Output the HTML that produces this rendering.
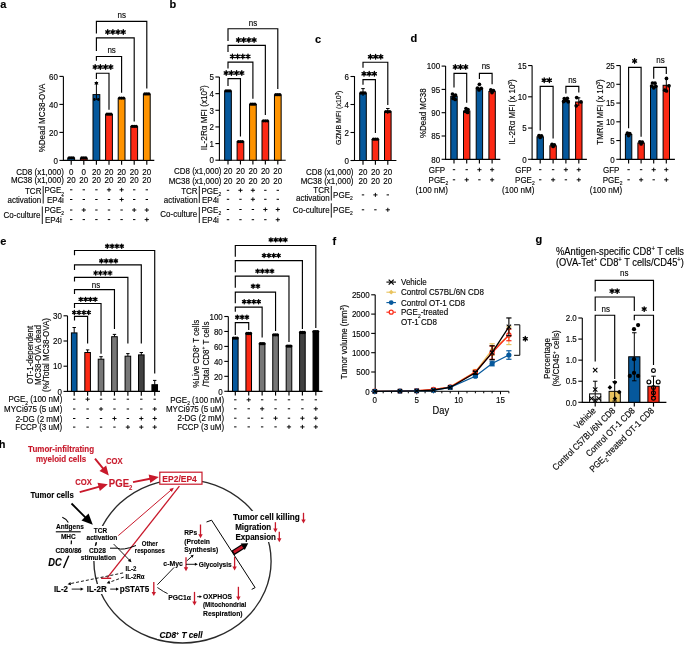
<!DOCTYPE html>
<html><head><meta charset="utf-8"><style>
html,body{margin:0;padding:0;background:#fff;width:685px;height:645px;overflow:hidden}
svg{display:block}
.tx text{stroke-width:0.22px;stroke-opacity:0.55}
</style></head><body>
<svg width="685" height="645" viewBox="0 0 685 645" style="will-change:transform">
<rect width="685" height="645" fill="#fff"/>
<g font-family="'Liberation Sans', sans-serif" font-size="8" class="tx">
<text x="0.3" y="7.9" font-size="11" font-weight="bold" stroke="#000">a</text>
<text x="169.4" y="7.9" font-size="11" font-weight="bold" stroke="#000">b</text>
<text x="314.9" y="42.8" font-size="11" font-weight="bold" stroke="#000">c</text>
<text x="410.5" y="42" font-size="11" font-weight="bold" stroke="#000">d</text>
<text x="0.3" y="245.1" font-size="11" font-weight="bold" stroke="#000">e</text>
<text x="332.4" y="244.9" font-size="11" font-weight="bold" stroke="#000">f</text>
<text x="535.6" y="243.2" font-size="11" font-weight="bold" stroke="#000">g</text>
<text x="-1.3" y="447.8" font-size="11" font-weight="bold" stroke="#000">h</text>
<line x1="63.4" y1="76.4" x2="63.4" y2="160.9" stroke="#000" stroke-width="1.1" />
<line x1="59.4" y1="160.4" x2="63.4" y2="160.4" stroke="#000" stroke-width="1.1" />
<text transform="translate(57.9,163.63) scale(1,1.12)" text-anchor="end" stroke="#000">0</text>
<line x1="59.4" y1="132.4" x2="63.4" y2="132.4" stroke="#000" stroke-width="1.1" />
<text transform="translate(57.9,135.63) scale(1,1.12)" text-anchor="end" stroke="#000">20</text>
<line x1="59.4" y1="104.4" x2="63.4" y2="104.4" stroke="#000" stroke-width="1.1" />
<text transform="translate(57.9,107.63) scale(1,1.12)" text-anchor="end" stroke="#000">40</text>
<line x1="59.4" y1="76.4" x2="63.4" y2="76.4" stroke="#000" stroke-width="1.1" />
<text transform="translate(57.9,79.63) scale(1,1.12)" text-anchor="end" stroke="#000">60</text>
<line x1="62.9" y1="160.4" x2="154.3" y2="160.4" stroke="#000" stroke-width="1.15" />
<line x1="71.2" y1="160.4" x2="71.2" y2="164.7" stroke="#000" stroke-width="1.15" />
<line x1="83.8" y1="160.4" x2="83.8" y2="164.7" stroke="#000" stroke-width="1.15" />
<line x1="96.4" y1="160.4" x2="96.4" y2="164.7" stroke="#000" stroke-width="1.15" />
<line x1="109" y1="160.4" x2="109" y2="164.7" stroke="#000" stroke-width="1.15" />
<line x1="121.6" y1="160.4" x2="121.6" y2="164.7" stroke="#000" stroke-width="1.15" />
<line x1="134.2" y1="160.4" x2="134.2" y2="164.7" stroke="#000" stroke-width="1.15" />
<line x1="146.8" y1="160.4" x2="146.8" y2="164.7" stroke="#000" stroke-width="1.15" />
<rect x="67.8" y="158.16" width="6.8" height="2.24" fill="#05589c" stroke="#000" stroke-width="1"/>
<rect x="80.4" y="158.3" width="6.8" height="2.1" fill="#fc2914" stroke="#000" stroke-width="1"/>
<rect x="93" y="94.6" width="6.8" height="65.8" fill="#05589c" stroke="#000" stroke-width="1"/>
<rect x="105.6" y="114.48" width="6.8" height="45.92" fill="#fc2914" stroke="#000" stroke-width="1"/>
<rect x="118.2" y="98.38" width="6.8" height="62.02" fill="#fe9300" stroke="#000" stroke-width="1"/>
<rect x="130.8" y="126.66" width="6.8" height="33.74" fill="#fc2914" stroke="#000" stroke-width="1"/>
<rect x="143.4" y="94.18" width="6.8" height="66.22" fill="#fe9300" stroke="#000" stroke-width="1"/>
<line x1="96.4" y1="82.5" x2="96.4" y2="100" stroke="#000" stroke-width="1" />
<line x1="94.65" y1="82.5" x2="98.15" y2="82.5" stroke="#000" stroke-width="1" />
<path d="M96.4 81L98.5 84.6L94.3 84.6Z" stroke="#000" stroke-width="0" fill="#000" />
<circle cx="94.4" cy="99.5" r="1.4" fill="#000" stroke="none" stroke-width="1"/>
<circle cx="98.4" cy="99.5" r="1.4" fill="#000" stroke="none" stroke-width="1"/>
<circle cx="69.2" cy="157.86" r="1.65" fill="#000" stroke="none" stroke-width="1"/>
<circle cx="71.2" cy="157.86" r="1.65" fill="#000" stroke="none" stroke-width="1"/>
<circle cx="73.2" cy="157.86" r="1.65" fill="#000" stroke="none" stroke-width="1"/>
<circle cx="81.8" cy="158" r="1.65" fill="#000" stroke="none" stroke-width="1"/>
<circle cx="83.8" cy="158" r="1.65" fill="#000" stroke="none" stroke-width="1"/>
<circle cx="85.8" cy="158" r="1.65" fill="#000" stroke="none" stroke-width="1"/>
<circle cx="107" cy="114.18" r="1.65" fill="#000" stroke="none" stroke-width="1"/>
<circle cx="109" cy="114.18" r="1.65" fill="#000" stroke="none" stroke-width="1"/>
<circle cx="111" cy="114.18" r="1.65" fill="#000" stroke="none" stroke-width="1"/>
<circle cx="119.6" cy="98.08" r="1.65" fill="#000" stroke="none" stroke-width="1"/>
<circle cx="121.6" cy="98.08" r="1.65" fill="#000" stroke="none" stroke-width="1"/>
<circle cx="123.6" cy="98.08" r="1.65" fill="#000" stroke="none" stroke-width="1"/>
<circle cx="132.2" cy="126.36" r="1.65" fill="#000" stroke="none" stroke-width="1"/>
<circle cx="134.2" cy="126.36" r="1.65" fill="#000" stroke="none" stroke-width="1"/>
<circle cx="136.2" cy="126.36" r="1.65" fill="#000" stroke="none" stroke-width="1"/>
<circle cx="144.8" cy="93.88" r="1.65" fill="#000" stroke="none" stroke-width="1"/>
<circle cx="146.8" cy="93.88" r="1.65" fill="#000" stroke="none" stroke-width="1"/>
<circle cx="148.8" cy="93.88" r="1.65" fill="#000" stroke="none" stroke-width="1"/>
<path d="M96.4 33.5V21.3H146.8V88.4" stroke="#000" stroke-width="1.15" fill="none" />
<path d="M96.4 50.9V37.8H134.2V121.5" stroke="#000" stroke-width="1.15" fill="none" />
<path d="M96.4 60.8V56.5H121.6V92.8" stroke="#000" stroke-width="1.15" fill="none" />
<path d="M96.4 79V73.2H109V109.8" stroke="#000" stroke-width="1.15" fill="none" />
<text transform="translate(121.8,17.53) scale(1,1.12)" text-anchor="middle" stroke="#000">ns</text>
<path d="M107.7 29.7L107.7 34.3M105.71 30.85L109.69 33.15M109.69 30.85L105.71 33.15" stroke="#000" stroke-width="1.35" stroke-linecap="round"/>
<path d="M112.9 29.7L112.9 34.3M110.91 30.85L114.89 33.15M114.89 30.85L110.91 33.15" stroke="#000" stroke-width="1.35" stroke-linecap="round"/>
<path d="M118.1 29.7L118.1 34.3M116.11 30.85L120.09 33.15M120.09 30.85L116.11 33.15" stroke="#000" stroke-width="1.35" stroke-linecap="round"/>
<path d="M123.3 29.7L123.3 34.3M121.31 30.85L125.29 33.15M125.29 30.85L121.31 33.15" stroke="#000" stroke-width="1.35" stroke-linecap="round"/>
<text transform="translate(111.6,52.63) scale(1,1.12)" text-anchor="middle" stroke="#000">ns</text>
<path d="M95.2 64.7L95.2 69.3M93.21 65.85L97.19 68.15M97.19 65.85L93.21 68.15" stroke="#000" stroke-width="1.35" stroke-linecap="round"/>
<path d="M100.4 64.7L100.4 69.3M98.41 65.85L102.39 68.15M102.39 65.85L98.41 68.15" stroke="#000" stroke-width="1.35" stroke-linecap="round"/>
<path d="M105.6 64.7L105.6 69.3M103.61 65.85L107.59 68.15M107.59 65.85L103.61 68.15" stroke="#000" stroke-width="1.35" stroke-linecap="round"/>
<path d="M110.8 64.7L110.8 69.3M108.81 65.85L112.79 68.15M112.79 65.85L108.81 68.15" stroke="#000" stroke-width="1.35" stroke-linecap="round"/>
<text transform="translate(42.2,118) rotate(-90) translate(0,3.23) scale(1,1.12)" text-anchor="middle" stroke="#000">%Dead MC38-OVA</text>
<text transform="translate(63.8,174.63) scale(1,1.12)" text-anchor="end" stroke="#000">CD8 (x1,000)</text>
<text transform="translate(63.8,182.73) scale(1,1.12)" text-anchor="end" stroke="#000">MC38 (x1,000)</text>
<text transform="translate(71.2,174.63) scale(1,1.12)" text-anchor="middle" stroke="#000">0</text>
<text transform="translate(83.8,174.63) scale(1,1.12)" text-anchor="middle" stroke="#000">0</text>
<text transform="translate(96.4,174.63) scale(1,1.12)" text-anchor="middle" stroke="#000">20</text>
<text transform="translate(109,174.63) scale(1,1.12)" text-anchor="middle" stroke="#000">20</text>
<text transform="translate(121.6,174.63) scale(1,1.12)" text-anchor="middle" stroke="#000">20</text>
<text transform="translate(134.2,174.63) scale(1,1.12)" text-anchor="middle" stroke="#000">20</text>
<text transform="translate(146.8,174.63) scale(1,1.12)" text-anchor="middle" stroke="#000">20</text>
<text transform="translate(71.2,182.73) scale(1,1.12)" text-anchor="middle" stroke="#000">20</text>
<text transform="translate(83.8,182.73) scale(1,1.12)" text-anchor="middle" stroke="#000">20</text>
<text transform="translate(96.4,182.73) scale(1,1.12)" text-anchor="middle" stroke="#000">20</text>
<text transform="translate(109,182.73) scale(1,1.12)" text-anchor="middle" stroke="#000">20</text>
<text transform="translate(121.6,182.73) scale(1,1.12)" text-anchor="middle" stroke="#000">20</text>
<text transform="translate(134.2,182.73) scale(1,1.12)" text-anchor="middle" stroke="#000">20</text>
<text transform="translate(146.8,182.73) scale(1,1.12)" text-anchor="middle" stroke="#000">20</text>
<text transform="translate(41.4,193.83) scale(1,1.12)" text-anchor="end" stroke="#000">TCR</text>
<text transform="translate(41.2,202.63) scale(1,1.12)" text-anchor="end" stroke="#000">activation</text>
<line x1="43.2" y1="186" x2="43.2" y2="203.5" stroke="#000" stroke-width="0.9" />
<text transform="translate(44.4,193.33) scale(1,1.12)" stroke="#000">PGE<tspan font-size="4.96" dy="2">2</tspan></text>
<text transform="translate(47,202.73) scale(1,1.12)" stroke="#000">EP4i</text>
<text transform="translate(40.4,217.83) scale(1,1.12)" text-anchor="end" stroke="#000">Co-culture</text>
<line x1="42.3" y1="206.5" x2="42.3" y2="224" stroke="#000" stroke-width="0.9" />
<text transform="translate(44.4,213.23) scale(1,1.12)" stroke="#000">PGE<tspan font-size="4.96" dy="2">2</tspan></text>
<text transform="translate(44.9,222.83) scale(1,1.12)" stroke="#000">EP4i</text>
<line x1="70" y1="189.8" x2="72.4" y2="189.8" stroke="#000" stroke-width="1" />
<line x1="82.6" y1="189.8" x2="85" y2="189.8" stroke="#000" stroke-width="1" />
<line x1="95.2" y1="189.8" x2="97.6" y2="189.8" stroke="#000" stroke-width="1" />
<line x1="106.9" y1="189.8" x2="111.1" y2="189.8" stroke="#000" stroke-width="0.95" />
<line x1="109" y1="187.8" x2="109" y2="191.8" stroke="#000" stroke-width="0.95" />
<line x1="119.5" y1="189.8" x2="123.7" y2="189.8" stroke="#000" stroke-width="0.95" />
<line x1="121.6" y1="187.8" x2="121.6" y2="191.8" stroke="#000" stroke-width="0.95" />
<line x1="133" y1="189.8" x2="135.4" y2="189.8" stroke="#000" stroke-width="1" />
<line x1="145.6" y1="189.8" x2="148" y2="189.8" stroke="#000" stroke-width="1" />
<line x1="70" y1="199.5" x2="72.4" y2="199.5" stroke="#000" stroke-width="1" />
<line x1="82.6" y1="199.5" x2="85" y2="199.5" stroke="#000" stroke-width="1" />
<line x1="95.2" y1="199.5" x2="97.6" y2="199.5" stroke="#000" stroke-width="1" />
<line x1="107.8" y1="199.5" x2="110.2" y2="199.5" stroke="#000" stroke-width="1" />
<line x1="119.5" y1="199.5" x2="123.7" y2="199.5" stroke="#000" stroke-width="0.95" />
<line x1="121.6" y1="197.5" x2="121.6" y2="201.5" stroke="#000" stroke-width="0.95" />
<line x1="133" y1="199.5" x2="135.4" y2="199.5" stroke="#000" stroke-width="1" />
<line x1="145.6" y1="199.5" x2="148" y2="199.5" stroke="#000" stroke-width="1" />
<line x1="70" y1="210" x2="72.4" y2="210" stroke="#000" stroke-width="1" />
<line x1="81.7" y1="210" x2="85.9" y2="210" stroke="#000" stroke-width="0.95" />
<line x1="83.8" y1="208" x2="83.8" y2="212" stroke="#000" stroke-width="0.95" />
<line x1="95.2" y1="210" x2="97.6" y2="210" stroke="#000" stroke-width="1" />
<line x1="107.8" y1="210" x2="110.2" y2="210" stroke="#000" stroke-width="1" />
<line x1="120.4" y1="210" x2="122.8" y2="210" stroke="#000" stroke-width="1" />
<line x1="132.1" y1="210" x2="136.3" y2="210" stroke="#000" stroke-width="0.95" />
<line x1="134.2" y1="208" x2="134.2" y2="212" stroke="#000" stroke-width="0.95" />
<line x1="144.7" y1="210" x2="148.9" y2="210" stroke="#000" stroke-width="0.95" />
<line x1="146.8" y1="208" x2="146.8" y2="212" stroke="#000" stroke-width="0.95" />
<line x1="70" y1="219.6" x2="72.4" y2="219.6" stroke="#000" stroke-width="1" />
<line x1="82.6" y1="219.6" x2="85" y2="219.6" stroke="#000" stroke-width="1" />
<line x1="95.2" y1="219.6" x2="97.6" y2="219.6" stroke="#000" stroke-width="1" />
<line x1="107.8" y1="219.6" x2="110.2" y2="219.6" stroke="#000" stroke-width="1" />
<line x1="120.4" y1="219.6" x2="122.8" y2="219.6" stroke="#000" stroke-width="1" />
<line x1="133" y1="219.6" x2="135.4" y2="219.6" stroke="#000" stroke-width="1" />
<line x1="144.7" y1="219.6" x2="148.9" y2="219.6" stroke="#000" stroke-width="0.95" />
<line x1="146.8" y1="217.6" x2="146.8" y2="221.6" stroke="#000" stroke-width="0.95" />
<line x1="219.4" y1="77" x2="219.4" y2="160.7" stroke="#000" stroke-width="1.1" />
<line x1="215.4" y1="160.2" x2="219.4" y2="160.2" stroke="#000" stroke-width="1.1" />
<text transform="translate(213.9,163.43) scale(1,1.12)" text-anchor="end" stroke="#000">0</text>
<line x1="215.4" y1="143.56" x2="219.4" y2="143.56" stroke="#000" stroke-width="1.1" />
<text transform="translate(213.9,146.79) scale(1,1.12)" text-anchor="end" stroke="#000">1</text>
<line x1="215.4" y1="126.92" x2="219.4" y2="126.92" stroke="#000" stroke-width="1.1" />
<text transform="translate(213.9,130.15) scale(1,1.12)" text-anchor="end" stroke="#000">2</text>
<line x1="215.4" y1="110.28" x2="219.4" y2="110.28" stroke="#000" stroke-width="1.1" />
<text transform="translate(213.9,113.51) scale(1,1.12)" text-anchor="end" stroke="#000">3</text>
<line x1="215.4" y1="93.64" x2="219.4" y2="93.64" stroke="#000" stroke-width="1.1" />
<text transform="translate(213.9,96.87) scale(1,1.12)" text-anchor="end" stroke="#000">4</text>
<line x1="215.4" y1="77" x2="219.4" y2="77" stroke="#000" stroke-width="1.1" />
<text transform="translate(213.9,80.23) scale(1,1.12)" text-anchor="end" stroke="#000">5</text>
<line x1="218.9" y1="160.2" x2="285.7" y2="160.2" stroke="#000" stroke-width="1.15" />
<line x1="228" y1="160.2" x2="228" y2="164.5" stroke="#000" stroke-width="1.15" />
<line x1="240.45" y1="160.2" x2="240.45" y2="164.5" stroke="#000" stroke-width="1.15" />
<line x1="252.9" y1="160.2" x2="252.9" y2="164.5" stroke="#000" stroke-width="1.15" />
<line x1="265.35" y1="160.2" x2="265.35" y2="164.5" stroke="#000" stroke-width="1.15" />
<line x1="277.8" y1="160.2" x2="277.8" y2="164.5" stroke="#000" stroke-width="1.15" />
<rect x="224.65" y="91.14" width="6.7" height="69.06" fill="#05589c" stroke="#000" stroke-width="1"/>
<circle cx="226" cy="90.84" r="1.65" fill="#000" stroke="none" stroke-width="1"/>
<circle cx="228" cy="90.84" r="1.65" fill="#000" stroke="none" stroke-width="1"/>
<circle cx="230" cy="90.84" r="1.65" fill="#000" stroke="none" stroke-width="1"/>
<rect x="237.1" y="141.9" width="6.7" height="18.3" fill="#fc2914" stroke="#000" stroke-width="1"/>
<circle cx="238.45" cy="141.6" r="1.65" fill="#000" stroke="none" stroke-width="1"/>
<circle cx="240.45" cy="141.6" r="1.65" fill="#000" stroke="none" stroke-width="1"/>
<circle cx="242.45" cy="141.6" r="1.65" fill="#000" stroke="none" stroke-width="1"/>
<rect x="249.55" y="104.46" width="6.7" height="55.74" fill="#fe9300" stroke="#000" stroke-width="1"/>
<circle cx="250.9" cy="104.16" r="1.65" fill="#000" stroke="none" stroke-width="1"/>
<circle cx="252.9" cy="104.16" r="1.65" fill="#000" stroke="none" stroke-width="1"/>
<circle cx="254.9" cy="104.16" r="1.65" fill="#000" stroke="none" stroke-width="1"/>
<rect x="262" y="121.1" width="6.7" height="39.1" fill="#fc2914" stroke="#000" stroke-width="1"/>
<circle cx="263.35" cy="120.8" r="1.65" fill="#000" stroke="none" stroke-width="1"/>
<circle cx="265.35" cy="120.8" r="1.65" fill="#000" stroke="none" stroke-width="1"/>
<circle cx="267.35" cy="120.8" r="1.65" fill="#000" stroke="none" stroke-width="1"/>
<rect x="274.45" y="94.97" width="6.7" height="65.23" fill="#fe9300" stroke="#000" stroke-width="1"/>
<circle cx="275.8" cy="94.67" r="1.65" fill="#000" stroke="none" stroke-width="1"/>
<circle cx="277.8" cy="94.67" r="1.65" fill="#000" stroke="none" stroke-width="1"/>
<circle cx="279.8" cy="94.67" r="1.65" fill="#000" stroke="none" stroke-width="1"/>
<path d="M228 40.9V28.7H277.8V89.1" stroke="#000" stroke-width="1.15" fill="none" />
<path d="M228 52V45.3H265.35V115.1" stroke="#000" stroke-width="1.15" fill="none" />
<path d="M228 68.5V62.1H252.9V98.8" stroke="#000" stroke-width="1.15" fill="none" />
<path d="M228 86V78.6H240.45V136.6" stroke="#000" stroke-width="1.15" fill="none" />
<text transform="translate(253,25.63) scale(1,1.12)" text-anchor="middle" stroke="#000">ns</text>
<path d="M238.5 37.7L238.5 42.3M236.51 38.85L240.49 41.15M240.49 38.85L236.51 41.15" stroke="#000" stroke-width="1.35" stroke-linecap="round"/>
<path d="M243.7 37.7L243.7 42.3M241.71 38.85L245.69 41.15M245.69 38.85L241.71 41.15" stroke="#000" stroke-width="1.35" stroke-linecap="round"/>
<path d="M248.9 37.7L248.9 42.3M246.91 38.85L250.89 41.15M250.89 38.85L246.91 41.15" stroke="#000" stroke-width="1.35" stroke-linecap="round"/>
<path d="M254.1 37.7L254.1 42.3M252.11 38.85L256.09 41.15M256.09 38.85L252.11 41.15" stroke="#000" stroke-width="1.35" stroke-linecap="round"/>
<path d="M232.4 54.1L232.4 58.7M230.41 55.25L234.39 57.55M234.39 55.25L230.41 57.55" stroke="#000" stroke-width="1.35" stroke-linecap="round"/>
<path d="M237.6 54.1L237.6 58.7M235.61 55.25L239.59 57.55M239.59 55.25L235.61 57.55" stroke="#000" stroke-width="1.35" stroke-linecap="round"/>
<path d="M242.8 54.1L242.8 58.7M240.81 55.25L244.79 57.55M244.79 55.25L240.81 57.55" stroke="#000" stroke-width="1.35" stroke-linecap="round"/>
<path d="M248 54.1L248 58.7M246.01 55.25L249.99 57.55M249.99 55.25L246.01 57.55" stroke="#000" stroke-width="1.35" stroke-linecap="round"/>
<path d="M226.2 70.7L226.2 75.3M224.21 71.85L228.19 74.15M228.19 71.85L224.21 74.15" stroke="#000" stroke-width="1.35" stroke-linecap="round"/>
<path d="M231.4 70.7L231.4 75.3M229.41 71.85L233.39 74.15M233.39 71.85L229.41 74.15" stroke="#000" stroke-width="1.35" stroke-linecap="round"/>
<path d="M236.6 70.7L236.6 75.3M234.61 71.85L238.59 74.15M238.59 71.85L234.61 74.15" stroke="#000" stroke-width="1.35" stroke-linecap="round"/>
<path d="M241.8 70.7L241.8 75.3M239.81 71.85L243.79 74.15M243.79 71.85L239.81 74.15" stroke="#000" stroke-width="1.35" stroke-linecap="round"/>
<text transform="translate(203.8,117.8) rotate(-90) translate(0,3.31) scale(1,1.12)" text-anchor="middle" stroke="#000" font-size="8.2">IL-2R&#945; MFI (x10<tspan font-size="5.08" dy="-2.95">3</tspan><tspan dy="2.95">)</tspan></text>
<text transform="translate(221.5,174.43) scale(1,1.12)" text-anchor="end" stroke="#000">CD8 (x1,000)</text>
<text transform="translate(221.5,183.63) scale(1,1.12)" text-anchor="end" stroke="#000">MC38 (x1,000)</text>
<text transform="translate(228,174.43) scale(1,1.12)" text-anchor="middle" stroke="#000">20</text>
<text transform="translate(228,183.63) scale(1,1.12)" text-anchor="middle" stroke="#000">20</text>
<text transform="translate(240.45,174.43) scale(1,1.12)" text-anchor="middle" stroke="#000">20</text>
<text transform="translate(240.45,183.63) scale(1,1.12)" text-anchor="middle" stroke="#000">20</text>
<text transform="translate(252.9,174.43) scale(1,1.12)" text-anchor="middle" stroke="#000">20</text>
<text transform="translate(252.9,183.63) scale(1,1.12)" text-anchor="middle" stroke="#000">20</text>
<text transform="translate(265.35,174.43) scale(1,1.12)" text-anchor="middle" stroke="#000">20</text>
<text transform="translate(265.35,183.63) scale(1,1.12)" text-anchor="middle" stroke="#000">20</text>
<text transform="translate(277.8,174.43) scale(1,1.12)" text-anchor="middle" stroke="#000">20</text>
<text transform="translate(277.8,183.63) scale(1,1.12)" text-anchor="middle" stroke="#000">20</text>
<text transform="translate(197.6,193.53) scale(1,1.12)" text-anchor="end" stroke="#000">TCR</text>
<text transform="translate(197.6,202.53) scale(1,1.12)" text-anchor="end" stroke="#000">activation</text>
<line x1="199.3" y1="186" x2="199.3" y2="203" stroke="#000" stroke-width="0.9" />
<text transform="translate(201.5,193.53) scale(1,1.12)" stroke="#000">PGE<tspan font-size="4.96" dy="2">2</tspan></text>
<text transform="translate(202,202.53) scale(1,1.12)" stroke="#000">EP4i</text>
<text transform="translate(197.2,217.43) scale(1,1.12)" text-anchor="end" stroke="#000">Co-culture</text>
<line x1="199.3" y1="207" x2="199.3" y2="223" stroke="#000" stroke-width="0.9" />
<text transform="translate(201.5,212.73) scale(1,1.12)" stroke="#000">PGE<tspan font-size="4.96" dy="2">2</tspan></text>
<text transform="translate(202,222.93) scale(1,1.12)" stroke="#000">EP4i</text>
<line x1="226.8" y1="190.3" x2="229.2" y2="190.3" stroke="#000" stroke-width="1" />
<line x1="238.35" y1="190.3" x2="242.55" y2="190.3" stroke="#000" stroke-width="0.95" />
<line x1="240.45" y1="188.3" x2="240.45" y2="192.3" stroke="#000" stroke-width="0.95" />
<line x1="250.8" y1="190.3" x2="255" y2="190.3" stroke="#000" stroke-width="0.95" />
<line x1="252.9" y1="188.3" x2="252.9" y2="192.3" stroke="#000" stroke-width="0.95" />
<line x1="264.15" y1="190.3" x2="266.55" y2="190.3" stroke="#000" stroke-width="1" />
<line x1="276.6" y1="190.3" x2="279" y2="190.3" stroke="#000" stroke-width="1" />
<line x1="226.8" y1="199.3" x2="229.2" y2="199.3" stroke="#000" stroke-width="1" />
<line x1="239.25" y1="199.3" x2="241.65" y2="199.3" stroke="#000" stroke-width="1" />
<line x1="250.8" y1="199.3" x2="255" y2="199.3" stroke="#000" stroke-width="0.95" />
<line x1="252.9" y1="197.3" x2="252.9" y2="201.3" stroke="#000" stroke-width="0.95" />
<line x1="264.15" y1="199.3" x2="266.55" y2="199.3" stroke="#000" stroke-width="1" />
<line x1="276.6" y1="199.3" x2="279" y2="199.3" stroke="#000" stroke-width="1" />
<line x1="226.8" y1="209.5" x2="229.2" y2="209.5" stroke="#000" stroke-width="1" />
<line x1="239.25" y1="209.5" x2="241.65" y2="209.5" stroke="#000" stroke-width="1" />
<line x1="251.7" y1="209.5" x2="254.1" y2="209.5" stroke="#000" stroke-width="1" />
<line x1="263.25" y1="209.5" x2="267.45" y2="209.5" stroke="#000" stroke-width="0.95" />
<line x1="265.35" y1="207.5" x2="265.35" y2="211.5" stroke="#000" stroke-width="0.95" />
<line x1="275.7" y1="209.5" x2="279.9" y2="209.5" stroke="#000" stroke-width="0.95" />
<line x1="277.8" y1="207.5" x2="277.8" y2="211.5" stroke="#000" stroke-width="0.95" />
<line x1="226.8" y1="219.7" x2="229.2" y2="219.7" stroke="#000" stroke-width="1" />
<line x1="239.25" y1="219.7" x2="241.65" y2="219.7" stroke="#000" stroke-width="1" />
<line x1="251.7" y1="219.7" x2="254.1" y2="219.7" stroke="#000" stroke-width="1" />
<line x1="264.15" y1="219.7" x2="266.55" y2="219.7" stroke="#000" stroke-width="1" />
<line x1="275.7" y1="219.7" x2="279.9" y2="219.7" stroke="#000" stroke-width="0.95" />
<line x1="277.8" y1="217.7" x2="277.8" y2="221.7" stroke="#000" stroke-width="0.95" />
<line x1="354.5" y1="76.1" x2="354.5" y2="161" stroke="#000" stroke-width="1.1" />
<line x1="350.5" y1="160.5" x2="354.5" y2="160.5" stroke="#000" stroke-width="1.1" />
<text transform="translate(349,163.73) scale(1,1.12)" text-anchor="end" stroke="#000">0</text>
<line x1="350.5" y1="132.5" x2="354.5" y2="132.5" stroke="#000" stroke-width="1.1" />
<text transform="translate(349,135.73) scale(1,1.12)" text-anchor="end" stroke="#000">2</text>
<line x1="350.5" y1="104.5" x2="354.5" y2="104.5" stroke="#000" stroke-width="1.1" />
<text transform="translate(349,107.73) scale(1,1.12)" text-anchor="end" stroke="#000">4</text>
<line x1="350.5" y1="76.5" x2="354.5" y2="76.5" stroke="#000" stroke-width="1.1" />
<text transform="translate(349,79.73) scale(1,1.12)" text-anchor="end" stroke="#000">6</text>
<line x1="354" y1="160.5" x2="396.4" y2="160.5" stroke="#000" stroke-width="1.15" />
<line x1="363" y1="160.5" x2="363" y2="164.8" stroke="#000" stroke-width="1.15" />
<line x1="375.4" y1="160.5" x2="375.4" y2="164.8" stroke="#000" stroke-width="1.15" />
<line x1="387.8" y1="160.5" x2="387.8" y2="164.8" stroke="#000" stroke-width="1.15" />
<rect x="359.7" y="93.3" width="6.6" height="67.2" fill="#05589c" stroke="#000" stroke-width="1"/>
<circle cx="361" cy="93" r="1.65" fill="#000" stroke="none" stroke-width="1"/>
<circle cx="363" cy="93" r="1.65" fill="#000" stroke="none" stroke-width="1"/>
<circle cx="365" cy="93" r="1.65" fill="#000" stroke="none" stroke-width="1"/>
<rect x="372.1" y="139.5" width="6.6" height="21" fill="#fc2914" stroke="#000" stroke-width="1"/>
<circle cx="373.4" cy="139.2" r="1.65" fill="#000" stroke="none" stroke-width="1"/>
<circle cx="375.4" cy="139.2" r="1.65" fill="#000" stroke="none" stroke-width="1"/>
<circle cx="377.4" cy="139.2" r="1.65" fill="#000" stroke="none" stroke-width="1"/>
<rect x="384.5" y="111.92" width="6.6" height="48.58" fill="#fc2914" stroke="#000" stroke-width="1"/>
<circle cx="385.8" cy="111.62" r="1.65" fill="#000" stroke="none" stroke-width="1"/>
<circle cx="387.8" cy="111.62" r="1.65" fill="#000" stroke="none" stroke-width="1"/>
<circle cx="389.8" cy="111.62" r="1.65" fill="#000" stroke="none" stroke-width="1"/>
<line x1="363" y1="88.6" x2="363" y2="96" stroke="#000" stroke-width="1" />
<line x1="361.25" y1="88.6" x2="364.75" y2="88.6" stroke="#000" stroke-width="1" />
<line x1="387.8" y1="108.5" x2="387.8" y2="114" stroke="#000" stroke-width="1" />
<line x1="386.05" y1="108.5" x2="389.55" y2="108.5" stroke="#000" stroke-width="1" />
<path d="M363 67.8V62.2H387.8V105" stroke="#000" stroke-width="1.15" fill="none" />
<path d="M363 84.8V79.6H375.4V133" stroke="#000" stroke-width="1.15" fill="none" />
<path d="M370.4 54.5L370.4 59.1M368.41 55.65L372.39 57.95M372.39 55.65L368.41 57.95" stroke="#000" stroke-width="1.35" stroke-linecap="round"/>
<path d="M375.6 54.5L375.6 59.1M373.61 55.65L377.59 57.95M377.59 55.65L373.61 57.95" stroke="#000" stroke-width="1.35" stroke-linecap="round"/>
<path d="M380.8 54.5L380.8 59.1M378.81 55.65L382.79 57.95M382.79 55.65L378.81 57.95" stroke="#000" stroke-width="1.35" stroke-linecap="round"/>
<path d="M364 71.5L364 76.1M362.01 72.65L365.99 74.95M365.99 72.65L362.01 74.95" stroke="#000" stroke-width="1.35" stroke-linecap="round"/>
<path d="M369.2 71.5L369.2 76.1M367.21 72.65L371.19 74.95M371.19 72.65L367.21 74.95" stroke="#000" stroke-width="1.35" stroke-linecap="round"/>
<path d="M374.4 71.5L374.4 76.1M372.41 72.65L376.39 74.95M376.39 72.65L372.41 74.95" stroke="#000" stroke-width="1.35" stroke-linecap="round"/>
<text transform="translate(338.6,117.8) rotate(-90) translate(0,2.82) scale(1,1.12)" text-anchor="middle" stroke="#000" font-size="7">GZMB MFI (x10<tspan font-size="4.34" dy="-2.52">3</tspan><tspan dy="2.52">)</tspan></text>
<text transform="translate(353.5,174.53) scale(1,1.12)" text-anchor="end" stroke="#000">CD8 (x1,000)</text>
<text transform="translate(353.5,183.63) scale(1,1.12)" text-anchor="end" stroke="#000">MC38 (x1,000)</text>
<text transform="translate(363,174.53) scale(1,1.12)" text-anchor="middle" stroke="#000">20</text>
<text transform="translate(363,183.63) scale(1,1.12)" text-anchor="middle" stroke="#000">20</text>
<text transform="translate(375.4,174.53) scale(1,1.12)" text-anchor="middle" stroke="#000">20</text>
<text transform="translate(375.4,183.63) scale(1,1.12)" text-anchor="middle" stroke="#000">20</text>
<text transform="translate(387.8,174.53) scale(1,1.12)" text-anchor="middle" stroke="#000">20</text>
<text transform="translate(387.8,183.63) scale(1,1.12)" text-anchor="middle" stroke="#000">20</text>
<text transform="translate(329.7,192.93) scale(1,1.12)" text-anchor="end" stroke="#000">TCR</text>
<text transform="translate(329.7,200.93) scale(1,1.12)" text-anchor="end" stroke="#000">activation</text>
<line x1="331.3" y1="186" x2="331.3" y2="200.5" stroke="#000" stroke-width="0.9" />
<text transform="translate(333.1,198.13) scale(1,1.12)" stroke="#000">PGE<tspan font-size="4.96" dy="2">2</tspan></text>
<text transform="translate(329.7,213.03) scale(1,1.12)" text-anchor="end" stroke="#000">Co-culture</text>
<line x1="331.3" y1="203.3" x2="331.3" y2="217.6" stroke="#000" stroke-width="0.9" />
<text transform="translate(333.1,213.03) scale(1,1.12)" stroke="#000">PGE<tspan font-size="4.96" dy="2">2</tspan></text>
<line x1="361.8" y1="194.9" x2="364.2" y2="194.9" stroke="#000" stroke-width="1" />
<line x1="373.3" y1="194.9" x2="377.5" y2="194.9" stroke="#000" stroke-width="0.95" />
<line x1="375.4" y1="192.9" x2="375.4" y2="196.9" stroke="#000" stroke-width="0.95" />
<line x1="386.6" y1="194.9" x2="389" y2="194.9" stroke="#000" stroke-width="1" />
<line x1="361.8" y1="209.8" x2="364.2" y2="209.8" stroke="#000" stroke-width="1" />
<line x1="374.2" y1="209.8" x2="376.6" y2="209.8" stroke="#000" stroke-width="1" />
<line x1="385.7" y1="209.8" x2="389.9" y2="209.8" stroke="#000" stroke-width="0.95" />
<line x1="387.8" y1="207.8" x2="387.8" y2="211.8" stroke="#000" stroke-width="0.95" />
<line x1="445.6" y1="66.1" x2="445.6" y2="159.8" stroke="#000" stroke-width="1.1" />
<line x1="441.6" y1="159.3" x2="445.6" y2="159.3" stroke="#000" stroke-width="1.1" />
<text transform="translate(440.1,162.53) scale(1,1.12)" text-anchor="end" stroke="#000">80</text>
<line x1="441.6" y1="136" x2="445.6" y2="136" stroke="#000" stroke-width="1.1" />
<text transform="translate(440.1,139.23) scale(1,1.12)" text-anchor="end" stroke="#000">85</text>
<line x1="441.6" y1="112.7" x2="445.6" y2="112.7" stroke="#000" stroke-width="1.1" />
<text transform="translate(440.1,115.93) scale(1,1.12)" text-anchor="end" stroke="#000">90</text>
<line x1="441.6" y1="89.4" x2="445.6" y2="89.4" stroke="#000" stroke-width="1.1" />
<text transform="translate(440.1,92.63) scale(1,1.12)" text-anchor="end" stroke="#000">95</text>
<line x1="441.6" y1="66.1" x2="445.6" y2="66.1" stroke="#000" stroke-width="1.1" />
<text transform="translate(440.1,69.33) scale(1,1.12)" text-anchor="end" stroke="#000">100</text>
<line x1="445.1" y1="159.3" x2="500.3" y2="159.3" stroke="#000" stroke-width="1.15" />
<line x1="454" y1="159.3" x2="454" y2="163.6" stroke="#000" stroke-width="1.15" />
<line x1="466.7" y1="159.3" x2="466.7" y2="163.6" stroke="#000" stroke-width="1.15" />
<line x1="479.4" y1="159.3" x2="479.4" y2="163.6" stroke="#000" stroke-width="1.15" />
<line x1="492.1" y1="159.3" x2="492.1" y2="163.6" stroke="#000" stroke-width="1.15" />
<rect x="450.8" y="96.3" width="6.4" height="63" fill="#05589c" stroke="#000" stroke-width="1"/>
<rect x="463.5" y="111" width="6.4" height="48.3" fill="#fc2914" stroke="#000" stroke-width="1"/>
<rect x="476.2" y="88.3" width="6.4" height="71" fill="#05589c" stroke="#000" stroke-width="1"/>
<rect x="488.9" y="91.4" width="6.4" height="67.9" fill="#fc2914" stroke="#000" stroke-width="1"/>
<path d="M454 87.6V73.4H466.7V102.8" stroke="#000" stroke-width="1.15" fill="none" />
<path d="M479.4 79.1V73.4H492.1V84.3" stroke="#000" stroke-width="1.15" fill="none" />
<path d="M455.3 64.6L455.3 69.2M453.31 65.75L457.29 68.05M457.29 65.75L453.31 68.05" stroke="#000" stroke-width="1.35" stroke-linecap="round"/>
<path d="M460.5 64.6L460.5 69.2M458.51 65.75L462.49 68.05M462.49 65.75L458.51 68.05" stroke="#000" stroke-width="1.35" stroke-linecap="round"/>
<path d="M465.7 64.6L465.7 69.2M463.71 65.75L467.69 68.05M467.69 65.75L463.71 68.05" stroke="#000" stroke-width="1.35" stroke-linecap="round"/>
<text transform="translate(485.9,69.33) scale(1,1.12)" text-anchor="middle" stroke="#000">ns</text>
<text transform="translate(423,113.2) rotate(-90) translate(0,3.23) scale(1,1.12)" text-anchor="middle" stroke="#000">%Dead MC38</text>
<text transform="translate(445.2,172.93) scale(1,1.12)" text-anchor="end" stroke="#000">GFP</text>
<text transform="translate(448.2,183.03) scale(1,1.12)" text-anchor="end" stroke="#000">PGE<tspan font-size="4.96" dy="2">2</tspan></text>
<text transform="translate(447.9,193.07) scale(1,1.12)" text-anchor="end" stroke="#000" font-size="8.1">(100 nM)</text>
<line x1="452.8" y1="169.7" x2="455.2" y2="169.7" stroke="#000" stroke-width="1" />
<line x1="465.5" y1="169.7" x2="467.9" y2="169.7" stroke="#000" stroke-width="1" />
<line x1="477.3" y1="169.7" x2="481.5" y2="169.7" stroke="#000" stroke-width="0.95" />
<line x1="479.4" y1="167.7" x2="479.4" y2="171.7" stroke="#000" stroke-width="0.95" />
<line x1="490" y1="169.7" x2="494.2" y2="169.7" stroke="#000" stroke-width="0.95" />
<line x1="492.1" y1="167.7" x2="492.1" y2="171.7" stroke="#000" stroke-width="0.95" />
<line x1="452.8" y1="179.8" x2="455.2" y2="179.8" stroke="#000" stroke-width="1" />
<line x1="464.6" y1="179.8" x2="468.8" y2="179.8" stroke="#000" stroke-width="0.95" />
<line x1="466.7" y1="177.8" x2="466.7" y2="181.8" stroke="#000" stroke-width="0.95" />
<line x1="478.2" y1="179.8" x2="480.6" y2="179.8" stroke="#000" stroke-width="1" />
<line x1="490" y1="179.8" x2="494.2" y2="179.8" stroke="#000" stroke-width="0.95" />
<line x1="492.1" y1="177.8" x2="492.1" y2="181.8" stroke="#000" stroke-width="0.95" />
<line x1="532.1" y1="65.5" x2="532.1" y2="159.8" stroke="#000" stroke-width="1.1" />
<line x1="528.1" y1="159.3" x2="532.1" y2="159.3" stroke="#000" stroke-width="1.1" />
<text transform="translate(526.6,162.53) scale(1,1.12)" text-anchor="end" stroke="#000">0</text>
<line x1="528.1" y1="128.05" x2="532.1" y2="128.05" stroke="#000" stroke-width="1.1" />
<text transform="translate(526.6,131.28) scale(1,1.12)" text-anchor="end" stroke="#000">5</text>
<line x1="528.1" y1="96.8" x2="532.1" y2="96.8" stroke="#000" stroke-width="1.1" />
<text transform="translate(526.6,100.03) scale(1,1.12)" text-anchor="end" stroke="#000">10</text>
<line x1="528.1" y1="65.55" x2="532.1" y2="65.55" stroke="#000" stroke-width="1.1" />
<text transform="translate(526.6,68.78) scale(1,1.12)" text-anchor="end" stroke="#000">15</text>
<line x1="531.6" y1="159.3" x2="586.9" y2="159.3" stroke="#000" stroke-width="1.15" />
<line x1="540.2" y1="159.3" x2="540.2" y2="163.6" stroke="#000" stroke-width="1.15" />
<line x1="553.1" y1="159.3" x2="553.1" y2="163.6" stroke="#000" stroke-width="1.15" />
<line x1="565.9" y1="159.3" x2="565.9" y2="163.6" stroke="#000" stroke-width="1.15" />
<line x1="578.8" y1="159.3" x2="578.8" y2="163.6" stroke="#000" stroke-width="1.15" />
<rect x="537" y="136.8" width="6.4" height="22.5" fill="#05589c" stroke="#000" stroke-width="1"/>
<rect x="549.9" y="145.8" width="6.4" height="13.5" fill="#fc2914" stroke="#000" stroke-width="1"/>
<rect x="562.7" y="100.4" width="6.4" height="58.9" fill="#05589c" stroke="#000" stroke-width="1"/>
<rect x="575.6" y="102" width="6.4" height="57.3" fill="#fc2914" stroke="#000" stroke-width="1"/>
<path d="M540.2 130.6V86.4H553.1V138.4" stroke="#000" stroke-width="1.15" fill="none" />
<path d="M565.9 93.4V86.4H578.8V92.6" stroke="#000" stroke-width="1.15" fill="none" />
<path d="M544.2 77.9L544.2 82.5M542.21 79.05L546.19 81.35M546.19 79.05L542.21 81.35" stroke="#000" stroke-width="1.35" stroke-linecap="round"/>
<path d="M549.4 77.9L549.4 82.5M547.41 79.05L551.39 81.35M551.39 79.05L547.41 81.35" stroke="#000" stroke-width="1.35" stroke-linecap="round"/>
<text transform="translate(572.4,82.73) scale(1,1.12)" text-anchor="middle" stroke="#000">ns</text>
<text transform="translate(512,112) rotate(-90) translate(0,3.23) scale(1,1.12)" text-anchor="middle" stroke="#000">IL-2R&#945; MFI (x 10<tspan font-size="4.96" dy="-2.88">3</tspan><tspan dy="2.88">)</tspan></text>
<text transform="translate(531.7,172.93) scale(1,1.12)" text-anchor="end" stroke="#000">GFP</text>
<text transform="translate(534.7,183.03) scale(1,1.12)" text-anchor="end" stroke="#000">PGE<tspan font-size="4.96" dy="2">2</tspan></text>
<text transform="translate(534.4,193.07) scale(1,1.12)" text-anchor="end" stroke="#000" font-size="8.1">(100 nM)</text>
<line x1="539" y1="169.7" x2="541.4" y2="169.7" stroke="#000" stroke-width="1" />
<line x1="551.9" y1="169.7" x2="554.3" y2="169.7" stroke="#000" stroke-width="1" />
<line x1="563.8" y1="169.7" x2="568" y2="169.7" stroke="#000" stroke-width="0.95" />
<line x1="565.9" y1="167.7" x2="565.9" y2="171.7" stroke="#000" stroke-width="0.95" />
<line x1="576.7" y1="169.7" x2="580.9" y2="169.7" stroke="#000" stroke-width="0.95" />
<line x1="578.8" y1="167.7" x2="578.8" y2="171.7" stroke="#000" stroke-width="0.95" />
<line x1="539" y1="179.8" x2="541.4" y2="179.8" stroke="#000" stroke-width="1" />
<line x1="551" y1="179.8" x2="555.2" y2="179.8" stroke="#000" stroke-width="0.95" />
<line x1="553.1" y1="177.8" x2="553.1" y2="181.8" stroke="#000" stroke-width="0.95" />
<line x1="564.7" y1="179.8" x2="567.1" y2="179.8" stroke="#000" stroke-width="1" />
<line x1="576.7" y1="179.8" x2="580.9" y2="179.8" stroke="#000" stroke-width="0.95" />
<line x1="578.8" y1="177.8" x2="578.8" y2="181.8" stroke="#000" stroke-width="0.95" />
<line x1="620.3" y1="65.5" x2="620.3" y2="159.8" stroke="#000" stroke-width="1.1" />
<line x1="616.3" y1="159.3" x2="620.3" y2="159.3" stroke="#000" stroke-width="1.1" />
<text transform="translate(614.8,162.53) scale(1,1.12)" text-anchor="end" stroke="#000">0</text>
<line x1="616.3" y1="140.55" x2="620.3" y2="140.55" stroke="#000" stroke-width="1.1" />
<text transform="translate(614.8,143.78) scale(1,1.12)" text-anchor="end" stroke="#000">5</text>
<line x1="616.3" y1="121.8" x2="620.3" y2="121.8" stroke="#000" stroke-width="1.1" />
<text transform="translate(614.8,125.03) scale(1,1.12)" text-anchor="end" stroke="#000">10</text>
<line x1="616.3" y1="103.05" x2="620.3" y2="103.05" stroke="#000" stroke-width="1.1" />
<text transform="translate(614.8,106.28) scale(1,1.12)" text-anchor="end" stroke="#000">15</text>
<line x1="616.3" y1="84.3" x2="620.3" y2="84.3" stroke="#000" stroke-width="1.1" />
<text transform="translate(614.8,87.53) scale(1,1.12)" text-anchor="end" stroke="#000">20</text>
<line x1="616.3" y1="65.55" x2="620.3" y2="65.55" stroke="#000" stroke-width="1.1" />
<text transform="translate(614.8,68.78) scale(1,1.12)" text-anchor="end" stroke="#000">25</text>
<line x1="619.8" y1="159.3" x2="674.9" y2="159.3" stroke="#000" stroke-width="1.15" />
<line x1="628.6" y1="159.3" x2="628.6" y2="163.6" stroke="#000" stroke-width="1.15" />
<line x1="641.1" y1="159.3" x2="641.1" y2="163.6" stroke="#000" stroke-width="1.15" />
<line x1="653.7" y1="159.3" x2="653.7" y2="163.6" stroke="#000" stroke-width="1.15" />
<line x1="666.3" y1="159.3" x2="666.3" y2="163.6" stroke="#000" stroke-width="1.15" />
<rect x="625.4" y="134.5" width="6.4" height="24.8" fill="#05589c" stroke="#000" stroke-width="1"/>
<rect x="637.9" y="143" width="6.4" height="16.3" fill="#fc2914" stroke="#000" stroke-width="1"/>
<rect x="650.5" y="86" width="6.4" height="73.3" fill="#05589c" stroke="#000" stroke-width="1"/>
<rect x="663.1" y="85.3" width="6.4" height="74" fill="#fc2914" stroke="#000" stroke-width="1"/>
<path d="M628.6 128.3V67.4H641.1V136.8" stroke="#000" stroke-width="1.15" fill="none" />
<path d="M653.7 78.7V67.4H666.3V74" stroke="#000" stroke-width="1.15" fill="none" />
<path d="M634.6 58.6L634.6 63.2M632.61 59.75L636.59 62.05M636.59 59.75L632.61 62.05" stroke="#000" stroke-width="1.35" stroke-linecap="round"/>
<text transform="translate(660.5,63.23) scale(1,1.12)" text-anchor="middle" stroke="#000">ns</text>
<text transform="translate(599.7,112) rotate(-90) translate(0,3.23) scale(1,1.12)" text-anchor="middle" stroke="#000">TMRM MFI (x 10<tspan font-size="4.96" dy="-2.88">3</tspan><tspan dy="2.88">)</tspan></text>
<text transform="translate(619.4,172.93) scale(1,1.12)" text-anchor="end" stroke="#000">GFP</text>
<text transform="translate(622.4,183.03) scale(1,1.12)" text-anchor="end" stroke="#000">PGE<tspan font-size="4.96" dy="2">2</tspan></text>
<text transform="translate(622.1,193.07) scale(1,1.12)" text-anchor="end" stroke="#000" font-size="8.1">(100 nM)</text>
<line x1="627.4" y1="169.7" x2="629.8" y2="169.7" stroke="#000" stroke-width="1" />
<line x1="639.9" y1="169.7" x2="642.3" y2="169.7" stroke="#000" stroke-width="1" />
<line x1="651.6" y1="169.7" x2="655.8" y2="169.7" stroke="#000" stroke-width="0.95" />
<line x1="653.7" y1="167.7" x2="653.7" y2="171.7" stroke="#000" stroke-width="0.95" />
<line x1="664.2" y1="169.7" x2="668.4" y2="169.7" stroke="#000" stroke-width="0.95" />
<line x1="666.3" y1="167.7" x2="666.3" y2="171.7" stroke="#000" stroke-width="0.95" />
<line x1="627.4" y1="179.8" x2="629.8" y2="179.8" stroke="#000" stroke-width="1" />
<line x1="639" y1="179.8" x2="643.2" y2="179.8" stroke="#000" stroke-width="0.95" />
<line x1="641.1" y1="177.8" x2="641.1" y2="181.8" stroke="#000" stroke-width="0.95" />
<line x1="652.5" y1="179.8" x2="654.9" y2="179.8" stroke="#000" stroke-width="1" />
<line x1="664.2" y1="179.8" x2="668.4" y2="179.8" stroke="#000" stroke-width="0.95" />
<line x1="666.3" y1="177.8" x2="666.3" y2="181.8" stroke="#000" stroke-width="0.95" />
<line x1="666.3" y1="78.4" x2="666.3" y2="91" stroke="#000" stroke-width="1" />
<line x1="664.8" y1="78.4" x2="667.8" y2="78.4" stroke="#000" stroke-width="1" />
<line x1="578.8" y1="97.8" x2="578.8" y2="106" stroke="#000" stroke-width="1" />
<line x1="577.3" y1="97.8" x2="580.3" y2="97.8" stroke="#000" stroke-width="1" />
<circle cx="452.5" cy="94" r="1.85" fill="#000" stroke="none" stroke-width="1"/>
<circle cx="455.5" cy="95" r="1.85" fill="#000" stroke="none" stroke-width="1"/>
<circle cx="453" cy="98.5" r="1.85" fill="#000" stroke="none" stroke-width="1"/>
<circle cx="455.2" cy="99.5" r="1.85" fill="#000" stroke="none" stroke-width="1"/>
<circle cx="454" cy="96.5" r="1.85" fill="#000" stroke="none" stroke-width="1"/>
<circle cx="466" cy="108.5" r="1.85" fill="#000" stroke="none" stroke-width="1"/>
<circle cx="468" cy="109.5" r="1.85" fill="#000" stroke="none" stroke-width="1"/>
<circle cx="465.6" cy="111.5" r="1.85" fill="#000" stroke="none" stroke-width="1"/>
<circle cx="467.6" cy="112.5" r="1.85" fill="#000" stroke="none" stroke-width="1"/>
<circle cx="479.4" cy="84.3" r="1.85" fill="#000" stroke="none" stroke-width="1"/>
<circle cx="477.5" cy="88" r="1.85" fill="#000" stroke="none" stroke-width="1"/>
<circle cx="481.2" cy="88.3" r="1.85" fill="#000" stroke="none" stroke-width="1"/>
<circle cx="479" cy="90" r="1.85" fill="#000" stroke="none" stroke-width="1"/>
<circle cx="490.8" cy="89.8" r="1.85" fill="#000" stroke="none" stroke-width="1"/>
<circle cx="493.4" cy="90.6" r="1.85" fill="#000" stroke="none" stroke-width="1"/>
<circle cx="492" cy="92.6" r="1.85" fill="#000" stroke="none" stroke-width="1"/>
<circle cx="539" cy="135.5" r="1.85" fill="#000" stroke="none" stroke-width="1"/>
<circle cx="541.5" cy="135.8" r="1.85" fill="#000" stroke="none" stroke-width="1"/>
<circle cx="540.2" cy="137.5" r="1.85" fill="#000" stroke="none" stroke-width="1"/>
<circle cx="552" cy="144.4" r="1.85" fill="#000" stroke="none" stroke-width="1"/>
<circle cx="554.3" cy="144.8" r="1.85" fill="#000" stroke="none" stroke-width="1"/>
<circle cx="553.1" cy="146.5" r="1.85" fill="#000" stroke="none" stroke-width="1"/>
<circle cx="564.3" cy="98.5" r="1.85" fill="#000" stroke="none" stroke-width="1"/>
<circle cx="567.3" cy="98.3" r="1.85" fill="#000" stroke="none" stroke-width="1"/>
<circle cx="565.9" cy="100.5" r="1.85" fill="#000" stroke="none" stroke-width="1"/>
<circle cx="563.6" cy="101.6" r="1.85" fill="#000" stroke="none" stroke-width="1"/>
<circle cx="568.2" cy="101.8" r="1.85" fill="#000" stroke="none" stroke-width="1"/>
<circle cx="576.7" cy="97.6" r="1.85" fill="#000" stroke="none" stroke-width="1"/>
<circle cx="581" cy="101.9" r="1.85" fill="#000" stroke="none" stroke-width="1"/>
<circle cx="576.2" cy="105.8" r="1.85" fill="#000" stroke="none" stroke-width="1"/>
<circle cx="627.4" cy="133.2" r="1.85" fill="#000" stroke="none" stroke-width="1"/>
<circle cx="629.8" cy="133.6" r="1.85" fill="#000" stroke="none" stroke-width="1"/>
<circle cx="628.6" cy="135.6" r="1.85" fill="#000" stroke="none" stroke-width="1"/>
<circle cx="639.9" cy="141.8" r="1.85" fill="#000" stroke="none" stroke-width="1"/>
<circle cx="642.3" cy="142.1" r="1.85" fill="#000" stroke="none" stroke-width="1"/>
<circle cx="641.1" cy="144" r="1.85" fill="#000" stroke="none" stroke-width="1"/>
<circle cx="652.5" cy="83" r="1.85" fill="#000" stroke="none" stroke-width="1"/>
<circle cx="655" cy="83.2" r="1.85" fill="#000" stroke="none" stroke-width="1"/>
<circle cx="651.6" cy="86" r="1.85" fill="#000" stroke="none" stroke-width="1"/>
<circle cx="655.8" cy="86.3" r="1.85" fill="#000" stroke="none" stroke-width="1"/>
<circle cx="653.7" cy="87.8" r="1.85" fill="#000" stroke="none" stroke-width="1"/>
<circle cx="666.5" cy="78.4" r="1.85" fill="#000" stroke="none" stroke-width="1"/>
<circle cx="669" cy="85.8" r="1.85" fill="#000" stroke="none" stroke-width="1"/>
<circle cx="664.7" cy="90.2" r="1.85" fill="#000" stroke="none" stroke-width="1"/>
<circle cx="666.5" cy="91" r="1.85" fill="#000" stroke="none" stroke-width="1"/>
<line x1="67.5" y1="315.8" x2="67.5" y2="391.9" stroke="#000" stroke-width="1.1" />
<line x1="63.5" y1="391.4" x2="67.5" y2="391.4" stroke="#000" stroke-width="1.1" />
<text transform="translate(62,394.63) scale(1,1.12)" text-anchor="end" stroke="#000">0</text>
<line x1="63.5" y1="366.2" x2="67.5" y2="366.2" stroke="#000" stroke-width="1.1" />
<text transform="translate(62,369.43) scale(1,1.12)" text-anchor="end" stroke="#000">10</text>
<line x1="63.5" y1="341" x2="67.5" y2="341" stroke="#000" stroke-width="1.1" />
<text transform="translate(62,344.23) scale(1,1.12)" text-anchor="end" stroke="#000">20</text>
<line x1="63.5" y1="315.8" x2="67.5" y2="315.8" stroke="#000" stroke-width="1.1" />
<text transform="translate(62,319.03) scale(1,1.12)" text-anchor="end" stroke="#000">30</text>
<line x1="67" y1="391.4" x2="160" y2="391.4" stroke="#000" stroke-width="1.15" />
<line x1="74.2" y1="391.4" x2="74.2" y2="395.7" stroke="#000" stroke-width="1.15" />
<line x1="87.62" y1="391.4" x2="87.62" y2="395.7" stroke="#000" stroke-width="1.15" />
<line x1="101.04" y1="391.4" x2="101.04" y2="395.7" stroke="#000" stroke-width="1.15" />
<line x1="114.46" y1="391.4" x2="114.46" y2="395.7" stroke="#000" stroke-width="1.15" />
<line x1="127.88" y1="391.4" x2="127.88" y2="395.7" stroke="#000" stroke-width="1.15" />
<line x1="141.3" y1="391.4" x2="141.3" y2="395.7" stroke="#000" stroke-width="1.15" />
<line x1="154.72" y1="391.4" x2="154.72" y2="395.7" stroke="#000" stroke-width="1.15" />
<line x1="74.2" y1="327.5" x2="74.2" y2="332.9" stroke="#000" stroke-width="1" />
<line x1="72.5" y1="327.5" x2="75.9" y2="327.5" stroke="#000" stroke-width="1" />
<rect x="71.4" y="332.9" width="5.6" height="58.5" fill="#05589c" stroke="#000" stroke-width="1"/>
<line x1="87.62" y1="349.9" x2="87.62" y2="352.5" stroke="#000" stroke-width="1" />
<line x1="85.92" y1="349.9" x2="89.32" y2="349.9" stroke="#000" stroke-width="1" />
<rect x="84.82" y="352.5" width="5.6" height="38.9" fill="#fc2914" stroke="#000" stroke-width="1"/>
<line x1="101.04" y1="356.7" x2="101.04" y2="359.2" stroke="#000" stroke-width="1" />
<line x1="99.34" y1="356.7" x2="102.74" y2="356.7" stroke="#000" stroke-width="1" />
<rect x="98.24" y="359.2" width="5.6" height="32.2" fill="#777777" stroke="#000" stroke-width="1"/>
<line x1="114.46" y1="334.4" x2="114.46" y2="336.7" stroke="#000" stroke-width="1" />
<line x1="112.76" y1="334.4" x2="116.16" y2="334.4" stroke="#000" stroke-width="1" />
<rect x="111.66" y="336.7" width="5.6" height="54.7" fill="#777777" stroke="#000" stroke-width="1"/>
<line x1="127.88" y1="353.6" x2="127.88" y2="356.2" stroke="#000" stroke-width="1" />
<line x1="126.18" y1="353.6" x2="129.58" y2="353.6" stroke="#000" stroke-width="1" />
<rect x="125.08" y="356.2" width="5.6" height="35.2" fill="#777777" stroke="#000" stroke-width="1"/>
<line x1="141.3" y1="352.5" x2="141.3" y2="354.9" stroke="#000" stroke-width="1" />
<line x1="139.6" y1="352.5" x2="143" y2="352.5" stroke="#000" stroke-width="1" />
<rect x="138.5" y="354.9" width="5.6" height="36.5" fill="#414141" stroke="#000" stroke-width="1"/>
<line x1="154.72" y1="380.4" x2="154.72" y2="384.7" stroke="#000" stroke-width="1" />
<line x1="153.02" y1="380.4" x2="156.42" y2="380.4" stroke="#000" stroke-width="1" />
<rect x="151.92" y="384.7" width="5.6" height="6.7" fill="#000" stroke="#000" stroke-width="1"/>
<path d="M74.5 255.2V250.5H154.72V373.5" stroke="#000" stroke-width="1.15" fill="none" />
<path d="M74.5 269.9V264.8H141.3V343.6" stroke="#000" stroke-width="1.15" fill="none" />
<path d="M74.5 281.5V277.3H127.88V343.6" stroke="#000" stroke-width="1.15" fill="none" />
<path d="M74.5 293.9V289.6H114.46V329" stroke="#000" stroke-width="1.15" fill="none" />
<path d="M74.5 307.9V303.5H101.04V353.8" stroke="#000" stroke-width="1.15" fill="none" />
<path d="M74.5 320.5V316.4H87.62V343.6" stroke="#000" stroke-width="1.15" fill="none" />
<path d="M107.3 244.2L107.3 248.2M105.57 245.2L109.03 247.2M109.03 245.2L105.57 247.2" stroke="#000" stroke-width="1.35" stroke-linecap="round"/>
<path d="M112.1 244.2L112.1 248.2M110.37 245.2L113.83 247.2M113.83 245.2L110.37 247.2" stroke="#000" stroke-width="1.35" stroke-linecap="round"/>
<path d="M116.9 244.2L116.9 248.2M115.17 245.2L118.63 247.2M118.63 245.2L115.17 247.2" stroke="#000" stroke-width="1.35" stroke-linecap="round"/>
<path d="M121.7 244.2L121.7 248.2M119.97 245.2L123.43 247.2M123.43 245.2L119.97 247.2" stroke="#000" stroke-width="1.35" stroke-linecap="round"/>
<path d="M101.4 258.9L101.4 262.9M99.67 259.9L103.13 261.9M103.13 259.9L99.67 261.9" stroke="#000" stroke-width="1.35" stroke-linecap="round"/>
<path d="M106.2 258.9L106.2 262.9M104.47 259.9L107.93 261.9M107.93 259.9L104.47 261.9" stroke="#000" stroke-width="1.35" stroke-linecap="round"/>
<path d="M111 258.9L111 262.9M109.27 259.9L112.73 261.9M112.73 259.9L109.27 261.9" stroke="#000" stroke-width="1.35" stroke-linecap="round"/>
<path d="M115.8 258.9L115.8 262.9M114.07 259.9L117.53 261.9M117.53 259.9L114.07 261.9" stroke="#000" stroke-width="1.35" stroke-linecap="round"/>
<path d="M95.7 271L95.7 275M93.97 272L97.43 274M97.43 272L93.97 274" stroke="#000" stroke-width="1.35" stroke-linecap="round"/>
<path d="M100.5 271L100.5 275M98.77 272L102.23 274M102.23 272L98.77 274" stroke="#000" stroke-width="1.35" stroke-linecap="round"/>
<path d="M105.3 271L105.3 275M103.57 272L107.03 274M107.03 272L103.57 274" stroke="#000" stroke-width="1.35" stroke-linecap="round"/>
<path d="M110.1 271L110.1 275M108.37 272L111.83 274M111.83 272L108.37 274" stroke="#000" stroke-width="1.35" stroke-linecap="round"/>
<text transform="translate(96,287.83) scale(1,1.12)" text-anchor="middle" stroke="#000">ns</text>
<path d="M80.8 297.3L80.8 301.3M79.07 298.3L82.53 300.3M82.53 298.3L79.07 300.3" stroke="#000" stroke-width="1.35" stroke-linecap="round"/>
<path d="M85.6 297.3L85.6 301.3M83.87 298.3L87.33 300.3M87.33 298.3L83.87 300.3" stroke="#000" stroke-width="1.35" stroke-linecap="round"/>
<path d="M90.4 297.3L90.4 301.3M88.67 298.3L92.13 300.3M92.13 298.3L88.67 300.3" stroke="#000" stroke-width="1.35" stroke-linecap="round"/>
<path d="M95.2 297.3L95.2 301.3M93.47 298.3L96.93 300.3M96.93 298.3L93.47 300.3" stroke="#000" stroke-width="1.35" stroke-linecap="round"/>
<path d="M74.3 310.5L74.3 314.5M72.57 311.5L76.03 313.5M76.03 311.5L72.57 313.5" stroke="#000" stroke-width="1.35" stroke-linecap="round"/>
<path d="M79.1 310.5L79.1 314.5M77.37 311.5L80.83 313.5M80.83 311.5L77.37 313.5" stroke="#000" stroke-width="1.35" stroke-linecap="round"/>
<path d="M83.9 310.5L83.9 314.5M82.17 311.5L85.63 313.5M85.63 311.5L82.17 313.5" stroke="#000" stroke-width="1.35" stroke-linecap="round"/>
<path d="M88.7 310.5L88.7 314.5M86.97 311.5L90.43 313.5M90.43 311.5L86.97 313.5" stroke="#000" stroke-width="1.35" stroke-linecap="round"/>
<text transform="translate(29.3,355) rotate(-90) translate(0,3.23) scale(1,1.12)" text-anchor="middle" stroke="#000">OT-1-dependent</text>
<text transform="translate(37.5,355) rotate(-90) translate(0,3.23) scale(1,1.12)" text-anchor="middle" stroke="#000">MC38-OVA dead</text>
<text transform="translate(45.5,355) rotate(-90) translate(0,3.23) scale(1,1.12)" text-anchor="middle" stroke="#000">(%/Total MC38-OVA)</text>
<text transform="translate(62.3,402.43) scale(1,1.12)" text-anchor="end" stroke="#000">PGE<tspan font-size="4.96" dy="2">2</tspan><tspan dy="-2"> (100 nM)</tspan></text>
<text transform="translate(62.3,412.23) scale(1,1.12)" text-anchor="end" stroke="#000">MYCi975 (5 uM)</text>
<text transform="translate(62.3,421.73) scale(1,1.12)" text-anchor="end" stroke="#000">2-DG (2 mM)</text>
<text transform="translate(62.3,430.33) scale(1,1.12)" text-anchor="end" stroke="#000">FCCP (3 uM)</text>
<line x1="73" y1="399.2" x2="75.4" y2="399.2" stroke="#000" stroke-width="1" />
<line x1="85.52" y1="399.2" x2="89.72" y2="399.2" stroke="#000" stroke-width="0.95" />
<line x1="87.62" y1="397.2" x2="87.62" y2="401.2" stroke="#000" stroke-width="0.95" />
<line x1="99.84" y1="399.2" x2="102.24" y2="399.2" stroke="#000" stroke-width="1" />
<line x1="113.26" y1="399.2" x2="115.66" y2="399.2" stroke="#000" stroke-width="1" />
<line x1="126.68" y1="399.2" x2="129.08" y2="399.2" stroke="#000" stroke-width="1" />
<line x1="140.1" y1="399.2" x2="142.5" y2="399.2" stroke="#000" stroke-width="1" />
<line x1="153.52" y1="399.2" x2="155.92" y2="399.2" stroke="#000" stroke-width="1" />
<line x1="73" y1="409" x2="75.4" y2="409" stroke="#000" stroke-width="1" />
<line x1="86.42" y1="409" x2="88.82" y2="409" stroke="#000" stroke-width="1" />
<line x1="98.94" y1="409" x2="103.14" y2="409" stroke="#000" stroke-width="0.95" />
<line x1="101.04" y1="407" x2="101.04" y2="411" stroke="#000" stroke-width="0.95" />
<line x1="113.26" y1="409" x2="115.66" y2="409" stroke="#000" stroke-width="1" />
<line x1="126.68" y1="409" x2="129.08" y2="409" stroke="#000" stroke-width="1" />
<line x1="140.1" y1="409" x2="142.5" y2="409" stroke="#000" stroke-width="1" />
<line x1="152.62" y1="409" x2="156.82" y2="409" stroke="#000" stroke-width="0.95" />
<line x1="154.72" y1="407" x2="154.72" y2="411" stroke="#000" stroke-width="0.95" />
<line x1="73" y1="418.5" x2="75.4" y2="418.5" stroke="#000" stroke-width="1" />
<line x1="86.42" y1="418.5" x2="88.82" y2="418.5" stroke="#000" stroke-width="1" />
<line x1="99.84" y1="418.5" x2="102.24" y2="418.5" stroke="#000" stroke-width="1" />
<line x1="112.36" y1="418.5" x2="116.56" y2="418.5" stroke="#000" stroke-width="0.95" />
<line x1="114.46" y1="416.5" x2="114.46" y2="420.5" stroke="#000" stroke-width="0.95" />
<line x1="126.68" y1="418.5" x2="129.08" y2="418.5" stroke="#000" stroke-width="1" />
<line x1="139.2" y1="418.5" x2="143.4" y2="418.5" stroke="#000" stroke-width="0.95" />
<line x1="141.3" y1="416.5" x2="141.3" y2="420.5" stroke="#000" stroke-width="0.95" />
<line x1="152.62" y1="418.5" x2="156.82" y2="418.5" stroke="#000" stroke-width="0.95" />
<line x1="154.72" y1="416.5" x2="154.72" y2="420.5" stroke="#000" stroke-width="0.95" />
<line x1="73" y1="427.1" x2="75.4" y2="427.1" stroke="#000" stroke-width="1" />
<line x1="86.42" y1="427.1" x2="88.82" y2="427.1" stroke="#000" stroke-width="1" />
<line x1="99.84" y1="427.1" x2="102.24" y2="427.1" stroke="#000" stroke-width="1" />
<line x1="113.26" y1="427.1" x2="115.66" y2="427.1" stroke="#000" stroke-width="1" />
<line x1="125.78" y1="427.1" x2="129.98" y2="427.1" stroke="#000" stroke-width="0.95" />
<line x1="127.88" y1="425.1" x2="127.88" y2="429.1" stroke="#000" stroke-width="0.95" />
<line x1="139.2" y1="427.1" x2="143.4" y2="427.1" stroke="#000" stroke-width="0.95" />
<line x1="141.3" y1="425.1" x2="141.3" y2="429.1" stroke="#000" stroke-width="0.95" />
<line x1="152.62" y1="427.1" x2="156.82" y2="427.1" stroke="#000" stroke-width="0.95" />
<line x1="154.72" y1="425.1" x2="154.72" y2="429.1" stroke="#000" stroke-width="0.95" />
<line x1="228.3" y1="316.5" x2="228.3" y2="391.8" stroke="#000" stroke-width="1.1" />
<line x1="224.3" y1="391.3" x2="228.3" y2="391.3" stroke="#000" stroke-width="1.1" />
<text transform="translate(222.8,394.53) scale(1,1.12)" text-anchor="end" stroke="#000">0</text>
<line x1="224.3" y1="376.34" x2="228.3" y2="376.34" stroke="#000" stroke-width="1.1" />
<text transform="translate(222.8,379.57) scale(1,1.12)" text-anchor="end" stroke="#000">20</text>
<line x1="224.3" y1="361.38" x2="228.3" y2="361.38" stroke="#000" stroke-width="1.1" />
<text transform="translate(222.8,364.61) scale(1,1.12)" text-anchor="end" stroke="#000">40</text>
<line x1="224.3" y1="346.42" x2="228.3" y2="346.42" stroke="#000" stroke-width="1.1" />
<text transform="translate(222.8,349.65) scale(1,1.12)" text-anchor="end" stroke="#000">60</text>
<line x1="224.3" y1="331.46" x2="228.3" y2="331.46" stroke="#000" stroke-width="1.1" />
<text transform="translate(222.8,334.69) scale(1,1.12)" text-anchor="end" stroke="#000">80</text>
<line x1="224.3" y1="316.5" x2="228.3" y2="316.5" stroke="#000" stroke-width="1.1" />
<text transform="translate(222.8,319.73) scale(1,1.12)" text-anchor="end" stroke="#000">100</text>
<line x1="227.8" y1="391.3" x2="322.5" y2="391.3" stroke="#000" stroke-width="1.15" />
<line x1="235.3" y1="391.3" x2="235.3" y2="395.6" stroke="#000" stroke-width="1.15" />
<line x1="248.72" y1="391.3" x2="248.72" y2="395.6" stroke="#000" stroke-width="1.15" />
<line x1="262.14" y1="391.3" x2="262.14" y2="395.6" stroke="#000" stroke-width="1.15" />
<line x1="275.56" y1="391.3" x2="275.56" y2="395.6" stroke="#000" stroke-width="1.15" />
<line x1="288.98" y1="391.3" x2="288.98" y2="395.6" stroke="#000" stroke-width="1.15" />
<line x1="302.4" y1="391.3" x2="302.4" y2="395.6" stroke="#000" stroke-width="1.15" />
<line x1="315.82" y1="391.3" x2="315.82" y2="395.6" stroke="#000" stroke-width="1.15" />
<rect x="232.5" y="337.9" width="5.6" height="53.4" fill="#05589c" stroke="#000" stroke-width="1"/>
<circle cx="233.5" cy="338.1" r="1.65" fill="#000" stroke="none" stroke-width="1"/>
<circle cx="235.3" cy="338.1" r="1.65" fill="#000" stroke="none" stroke-width="1"/>
<circle cx="237.1" cy="338.1" r="1.65" fill="#000" stroke="none" stroke-width="1"/>
<rect x="245.92" y="333.3" width="5.6" height="58" fill="#fc2914" stroke="#000" stroke-width="1"/>
<circle cx="246.92" cy="333.5" r="1.65" fill="#000" stroke="none" stroke-width="1"/>
<circle cx="248.72" cy="333.5" r="1.65" fill="#000" stroke="none" stroke-width="1"/>
<circle cx="250.52" cy="333.5" r="1.65" fill="#000" stroke="none" stroke-width="1"/>
<rect x="259.34" y="343.5" width="5.6" height="47.8" fill="#777777" stroke="#000" stroke-width="1"/>
<circle cx="260.34" cy="343.7" r="1.65" fill="#000" stroke="none" stroke-width="1"/>
<circle cx="262.14" cy="343.7" r="1.65" fill="#000" stroke="none" stroke-width="1"/>
<circle cx="263.94" cy="343.7" r="1.65" fill="#000" stroke="none" stroke-width="1"/>
<rect x="272.76" y="334.6" width="5.6" height="56.7" fill="#777777" stroke="#000" stroke-width="1"/>
<circle cx="273.76" cy="334.8" r="1.65" fill="#000" stroke="none" stroke-width="1"/>
<circle cx="275.56" cy="334.8" r="1.65" fill="#000" stroke="none" stroke-width="1"/>
<circle cx="277.36" cy="334.8" r="1.65" fill="#000" stroke="none" stroke-width="1"/>
<rect x="286.18" y="345.9" width="5.6" height="45.4" fill="#777777" stroke="#000" stroke-width="1"/>
<circle cx="287.18" cy="346.1" r="1.65" fill="#000" stroke="none" stroke-width="1"/>
<circle cx="288.98" cy="346.1" r="1.65" fill="#000" stroke="none" stroke-width="1"/>
<circle cx="290.78" cy="346.1" r="1.65" fill="#000" stroke="none" stroke-width="1"/>
<rect x="299.6" y="332.3" width="5.6" height="59" fill="#414141" stroke="#000" stroke-width="1"/>
<circle cx="300.6" cy="332.5" r="1.65" fill="#000" stroke="none" stroke-width="1"/>
<circle cx="302.4" cy="332.5" r="1.65" fill="#000" stroke="none" stroke-width="1"/>
<circle cx="304.2" cy="332.5" r="1.65" fill="#000" stroke="none" stroke-width="1"/>
<rect x="313.02" y="331.4" width="5.6" height="59.9" fill="#000" stroke="#000" stroke-width="1"/>
<circle cx="314.02" cy="331.6" r="1.65" fill="#000" stroke="none" stroke-width="1"/>
<circle cx="315.82" cy="331.6" r="1.65" fill="#000" stroke="none" stroke-width="1"/>
<circle cx="317.62" cy="331.6" r="1.65" fill="#000" stroke="none" stroke-width="1"/>
<path d="M235.3 256.7V245.5H315.82V328" stroke="#000" stroke-width="1.15" fill="none" />
<path d="M235.3 272.2V260.6H302.4V329" stroke="#000" stroke-width="1.15" fill="none" />
<path d="M235.3 287.7V276.1H288.98V342" stroke="#000" stroke-width="1.15" fill="none" />
<path d="M235.3 303.2V292.1H275.56V331" stroke="#000" stroke-width="1.15" fill="none" />
<path d="M235.3 311.7V307.1H262.14V337.6" stroke="#000" stroke-width="1.15" fill="none" />
<path d="M235.3 335V322.6H248.72V330" stroke="#000" stroke-width="1.15" fill="none" />
<path d="M270.9 237.8L270.9 241.8M269.17 238.8L272.63 240.8M272.63 238.8L269.17 240.8" stroke="#000" stroke-width="1.35" stroke-linecap="round"/>
<path d="M275.7 237.8L275.7 241.8M273.97 238.8L277.43 240.8M277.43 238.8L273.97 240.8" stroke="#000" stroke-width="1.35" stroke-linecap="round"/>
<path d="M280.5 237.8L280.5 241.8M278.77 238.8L282.23 240.8M282.23 238.8L278.77 240.8" stroke="#000" stroke-width="1.35" stroke-linecap="round"/>
<path d="M285.3 237.8L285.3 241.8M283.57 238.8L287.03 240.8M287.03 238.8L283.57 240.8" stroke="#000" stroke-width="1.35" stroke-linecap="round"/>
<path d="M264.1 253.5L264.1 257.5M262.37 254.5L265.83 256.5M265.83 254.5L262.37 256.5" stroke="#000" stroke-width="1.35" stroke-linecap="round"/>
<path d="M268.9 253.5L268.9 257.5M267.17 254.5L270.63 256.5M270.63 254.5L267.17 256.5" stroke="#000" stroke-width="1.35" stroke-linecap="round"/>
<path d="M273.7 253.5L273.7 257.5M271.97 254.5L275.43 256.5M275.43 254.5L271.97 256.5" stroke="#000" stroke-width="1.35" stroke-linecap="round"/>
<path d="M278.5 253.5L278.5 257.5M276.77 254.5L280.23 256.5M280.23 254.5L276.77 256.5" stroke="#000" stroke-width="1.35" stroke-linecap="round"/>
<path d="M257.6 269.1L257.6 273.1M255.87 270.1L259.33 272.1M259.33 270.1L255.87 272.1" stroke="#000" stroke-width="1.35" stroke-linecap="round"/>
<path d="M262.4 269.1L262.4 273.1M260.67 270.1L264.13 272.1M264.13 270.1L260.67 272.1" stroke="#000" stroke-width="1.35" stroke-linecap="round"/>
<path d="M267.2 269.1L267.2 273.1M265.47 270.1L268.93 272.1M268.93 270.1L265.47 272.1" stroke="#000" stroke-width="1.35" stroke-linecap="round"/>
<path d="M272 269.1L272 273.1M270.27 270.1L273.73 272.1M273.73 270.1L270.27 272.1" stroke="#000" stroke-width="1.35" stroke-linecap="round"/>
<path d="M253.1 284.2L253.1 288.2M251.37 285.2L254.83 287.2M254.83 285.2L251.37 287.2" stroke="#000" stroke-width="1.35" stroke-linecap="round"/>
<path d="M257.9 284.2L257.9 288.2M256.17 285.2L259.63 287.2M259.63 285.2L256.17 287.2" stroke="#000" stroke-width="1.35" stroke-linecap="round"/>
<path d="M244.2 299.7L244.2 303.7M242.47 300.7L245.93 302.7M245.93 300.7L242.47 302.7" stroke="#000" stroke-width="1.35" stroke-linecap="round"/>
<path d="M249 299.7L249 303.7M247.27 300.7L250.73 302.7M250.73 300.7L247.27 302.7" stroke="#000" stroke-width="1.35" stroke-linecap="round"/>
<path d="M253.8 299.7L253.8 303.7M252.07 300.7L255.53 302.7M255.53 300.7L252.07 302.7" stroke="#000" stroke-width="1.35" stroke-linecap="round"/>
<path d="M258.6 299.7L258.6 303.7M256.87 300.7L260.33 302.7M260.33 300.7L256.87 302.7" stroke="#000" stroke-width="1.35" stroke-linecap="round"/>
<path d="M237.3 315.2L237.3 319.2M235.57 316.2L239.03 318.2M239.03 316.2L235.57 318.2" stroke="#000" stroke-width="1.35" stroke-linecap="round"/>
<path d="M242.1 315.2L242.1 319.2M240.37 316.2L243.83 318.2M243.83 316.2L240.37 318.2" stroke="#000" stroke-width="1.35" stroke-linecap="round"/>
<path d="M246.9 315.2L246.9 319.2M245.17 316.2L248.63 318.2M248.63 316.2L245.17 318.2" stroke="#000" stroke-width="1.35" stroke-linecap="round"/>
<text transform="translate(196.2,353.7) rotate(-90) translate(0,3.23) scale(1,1.12)" text-anchor="middle" stroke="#000">%Live CD8<tspan font-size="4.96" dy="-2.88">+</tspan><tspan dy="2.88"> T cells</tspan></text>
<text transform="translate(205.3,354.2) rotate(-90) translate(0,3.23) scale(1,1.12)" text-anchor="middle" stroke="#000">/Total CD8<tspan font-size="4.96" dy="-2.88">+</tspan><tspan dy="2.88"> T cells</tspan></text>
<text transform="translate(224.1,403.03) scale(1,1.12)" text-anchor="end" stroke="#000">PGE<tspan font-size="4.96" dy="2">2</tspan><tspan dy="-2"> (100 nM)</tspan></text>
<text transform="translate(224.1,412.03) scale(1,1.12)" text-anchor="end" stroke="#000">MYCi975 (5 uM)</text>
<text transform="translate(224.1,421.43) scale(1,1.12)" text-anchor="end" stroke="#000">2-DG (2 mM)</text>
<text transform="translate(224.1,430.13) scale(1,1.12)" text-anchor="end" stroke="#000">FCCP (3 uM)</text>
<line x1="234.1" y1="399.8" x2="236.5" y2="399.8" stroke="#000" stroke-width="1" />
<line x1="246.62" y1="399.8" x2="250.82" y2="399.8" stroke="#000" stroke-width="0.95" />
<line x1="248.72" y1="397.8" x2="248.72" y2="401.8" stroke="#000" stroke-width="0.95" />
<line x1="260.94" y1="399.8" x2="263.34" y2="399.8" stroke="#000" stroke-width="1" />
<line x1="274.36" y1="399.8" x2="276.76" y2="399.8" stroke="#000" stroke-width="1" />
<line x1="287.78" y1="399.8" x2="290.18" y2="399.8" stroke="#000" stroke-width="1" />
<line x1="301.2" y1="399.8" x2="303.6" y2="399.8" stroke="#000" stroke-width="1" />
<line x1="314.62" y1="399.8" x2="317.02" y2="399.8" stroke="#000" stroke-width="1" />
<line x1="234.1" y1="408.8" x2="236.5" y2="408.8" stroke="#000" stroke-width="1" />
<line x1="247.52" y1="408.8" x2="249.92" y2="408.8" stroke="#000" stroke-width="1" />
<line x1="260.04" y1="408.8" x2="264.24" y2="408.8" stroke="#000" stroke-width="0.95" />
<line x1="262.14" y1="406.8" x2="262.14" y2="410.8" stroke="#000" stroke-width="0.95" />
<line x1="274.36" y1="408.8" x2="276.76" y2="408.8" stroke="#000" stroke-width="1" />
<line x1="287.78" y1="408.8" x2="290.18" y2="408.8" stroke="#000" stroke-width="1" />
<line x1="301.2" y1="408.8" x2="303.6" y2="408.8" stroke="#000" stroke-width="1" />
<line x1="313.72" y1="408.8" x2="317.92" y2="408.8" stroke="#000" stroke-width="0.95" />
<line x1="315.82" y1="406.8" x2="315.82" y2="410.8" stroke="#000" stroke-width="0.95" />
<line x1="234.1" y1="418.2" x2="236.5" y2="418.2" stroke="#000" stroke-width="1" />
<line x1="247.52" y1="418.2" x2="249.92" y2="418.2" stroke="#000" stroke-width="1" />
<line x1="260.94" y1="418.2" x2="263.34" y2="418.2" stroke="#000" stroke-width="1" />
<line x1="273.46" y1="418.2" x2="277.66" y2="418.2" stroke="#000" stroke-width="0.95" />
<line x1="275.56" y1="416.2" x2="275.56" y2="420.2" stroke="#000" stroke-width="0.95" />
<line x1="287.78" y1="418.2" x2="290.18" y2="418.2" stroke="#000" stroke-width="1" />
<line x1="300.3" y1="418.2" x2="304.5" y2="418.2" stroke="#000" stroke-width="0.95" />
<line x1="302.4" y1="416.2" x2="302.4" y2="420.2" stroke="#000" stroke-width="0.95" />
<line x1="313.72" y1="418.2" x2="317.92" y2="418.2" stroke="#000" stroke-width="0.95" />
<line x1="315.82" y1="416.2" x2="315.82" y2="420.2" stroke="#000" stroke-width="0.95" />
<line x1="234.1" y1="426.9" x2="236.5" y2="426.9" stroke="#000" stroke-width="1" />
<line x1="247.52" y1="426.9" x2="249.92" y2="426.9" stroke="#000" stroke-width="1" />
<line x1="260.94" y1="426.9" x2="263.34" y2="426.9" stroke="#000" stroke-width="1" />
<line x1="274.36" y1="426.9" x2="276.76" y2="426.9" stroke="#000" stroke-width="1" />
<line x1="286.88" y1="426.9" x2="291.08" y2="426.9" stroke="#000" stroke-width="0.95" />
<line x1="288.98" y1="424.9" x2="288.98" y2="428.9" stroke="#000" stroke-width="0.95" />
<line x1="300.3" y1="426.9" x2="304.5" y2="426.9" stroke="#000" stroke-width="0.95" />
<line x1="302.4" y1="424.9" x2="302.4" y2="428.9" stroke="#000" stroke-width="0.95" />
<line x1="313.72" y1="426.9" x2="317.92" y2="426.9" stroke="#000" stroke-width="0.95" />
<line x1="315.82" y1="424.9" x2="315.82" y2="428.9" stroke="#000" stroke-width="0.95" />
<line x1="375.2" y1="294.8" x2="375.2" y2="391.8" stroke="#000" stroke-width="1.1" />
<line x1="371.2" y1="391.3" x2="375.2" y2="391.3" stroke="#000" stroke-width="1.1" />
<text transform="translate(369.7,394.53) scale(1,1.12)" text-anchor="end" stroke="#000">0</text>
<line x1="371.2" y1="372" x2="375.2" y2="372" stroke="#000" stroke-width="1.1" />
<text transform="translate(369.7,375.23) scale(1,1.12)" text-anchor="end" stroke="#000">500</text>
<line x1="371.2" y1="352.7" x2="375.2" y2="352.7" stroke="#000" stroke-width="1.1" />
<text transform="translate(369.7,355.93) scale(1,1.12)" text-anchor="end" stroke="#000">1000</text>
<line x1="371.2" y1="333.4" x2="375.2" y2="333.4" stroke="#000" stroke-width="1.1" />
<text transform="translate(369.7,336.63) scale(1,1.12)" text-anchor="end" stroke="#000">1500</text>
<line x1="371.2" y1="314.1" x2="375.2" y2="314.1" stroke="#000" stroke-width="1.1" />
<text transform="translate(369.7,317.33) scale(1,1.12)" text-anchor="end" stroke="#000">2000</text>
<line x1="371.2" y1="294.8" x2="375.2" y2="294.8" stroke="#000" stroke-width="1.1" />
<text transform="translate(369.7,298.03) scale(1,1.12)" text-anchor="end" stroke="#000">2500</text>
<line x1="374.7" y1="391.3" x2="508.88" y2="391.3" stroke="#000" stroke-width="1" />
<line x1="374.8" y1="391.3" x2="374.8" y2="394.3" stroke="#000" stroke-width="1" />
<line x1="383.18" y1="391.3" x2="383.18" y2="393.3" stroke="#000" stroke-width="1" />
<line x1="391.56" y1="391.3" x2="391.56" y2="393.3" stroke="#000" stroke-width="1" />
<line x1="399.94" y1="391.3" x2="399.94" y2="393.3" stroke="#000" stroke-width="1" />
<line x1="408.32" y1="391.3" x2="408.32" y2="393.3" stroke="#000" stroke-width="1" />
<line x1="416.7" y1="391.3" x2="416.7" y2="394.3" stroke="#000" stroke-width="1" />
<line x1="425.08" y1="391.3" x2="425.08" y2="393.3" stroke="#000" stroke-width="1" />
<line x1="433.46" y1="391.3" x2="433.46" y2="393.3" stroke="#000" stroke-width="1" />
<line x1="441.84" y1="391.3" x2="441.84" y2="393.3" stroke="#000" stroke-width="1" />
<line x1="450.22" y1="391.3" x2="450.22" y2="393.3" stroke="#000" stroke-width="1" />
<line x1="458.6" y1="391.3" x2="458.6" y2="394.3" stroke="#000" stroke-width="1" />
<line x1="466.98" y1="391.3" x2="466.98" y2="393.3" stroke="#000" stroke-width="1" />
<line x1="475.36" y1="391.3" x2="475.36" y2="393.3" stroke="#000" stroke-width="1" />
<line x1="483.74" y1="391.3" x2="483.74" y2="393.3" stroke="#000" stroke-width="1" />
<line x1="492.12" y1="391.3" x2="492.12" y2="393.3" stroke="#000" stroke-width="1" />
<line x1="500.5" y1="391.3" x2="500.5" y2="394.3" stroke="#000" stroke-width="1" />
<line x1="508.88" y1="391.3" x2="508.88" y2="393.3" stroke="#000" stroke-width="1" />
<text transform="translate(374.8,403.23) scale(1,1.12)" text-anchor="middle" stroke="#000">0</text>
<text transform="translate(416.7,403.23) scale(1,1.12)" text-anchor="middle" stroke="#000">5</text>
<text transform="translate(458.6,403.23) scale(1,1.12)" text-anchor="middle" stroke="#000">10</text>
<text transform="translate(500.5,403.23) scale(1,1.12)" text-anchor="middle" stroke="#000">15</text>
<text transform="translate(440.8,414.05) scale(1,1.12)" text-anchor="middle" stroke="#000" font-size="9.3">Day</text>
<text transform="translate(344,342) rotate(-90) translate(0,3.23) scale(1,1.12)" text-anchor="middle" stroke="#000">Tumor volume (mm<tspan font-size="4.96" dy="-2.88">3</tspan><tspan dy="2.88">)</tspan></text>
<path d="M374.8 391.3 L399.94 391.11 L416.7 390.84 L433.46 389.76 L450.22 386.86 L475.36 371.81 L492.12 349.61 L508.88 335.72" stroke="#e9c35e" stroke-width="1.3" fill="none" />
<line x1="475.36" y1="369.49" x2="475.36" y2="374.12" stroke="#e9c35e" stroke-width="1.1" />
<line x1="472.76" y1="369.49" x2="477.96" y2="369.49" stroke="#e9c35e" stroke-width="1.2" />
<line x1="472.76" y1="374.12" x2="477.96" y2="374.12" stroke="#e9c35e" stroke-width="1.2" />
<line x1="492.12" y1="343.82" x2="492.12" y2="355.4" stroke="#e9c35e" stroke-width="1.1" />
<line x1="489.52" y1="343.82" x2="494.72" y2="343.82" stroke="#e9c35e" stroke-width="1.2" />
<line x1="489.52" y1="355.4" x2="494.72" y2="355.4" stroke="#e9c35e" stroke-width="1.2" />
<line x1="508.88" y1="326.84" x2="508.88" y2="344.59" stroke="#e9c35e" stroke-width="1.1" />
<line x1="506.28" y1="326.84" x2="511.48" y2="326.84" stroke="#e9c35e" stroke-width="1.2" />
<line x1="506.28" y1="344.59" x2="511.48" y2="344.59" stroke="#e9c35e" stroke-width="1.2" />
<path d="M374.8 389L377.1 391.3L374.8 393.6L372.5 391.3Z" stroke="#e9c35e" stroke-width="0" fill="#e9c35e" />
<path d="M399.94 388.81L402.24 391.11L399.94 393.41L397.64 391.11Z" stroke="#e9c35e" stroke-width="0" fill="#e9c35e" />
<path d="M416.7 388.54L419 390.84L416.7 393.14L414.4 390.84Z" stroke="#e9c35e" stroke-width="0" fill="#e9c35e" />
<path d="M433.46 387.46L435.76 389.76L433.46 392.06L431.16 389.76Z" stroke="#e9c35e" stroke-width="0" fill="#e9c35e" />
<path d="M450.22 384.56L452.52 386.86L450.22 389.16L447.92 386.86Z" stroke="#e9c35e" stroke-width="0" fill="#e9c35e" />
<path d="M475.36 369.51L477.66 371.81L475.36 374.11L473.06 371.81Z" stroke="#e9c35e" stroke-width="0" fill="#e9c35e" />
<path d="M492.12 347.31L494.42 349.61L492.12 351.91L489.82 349.61Z" stroke="#e9c35e" stroke-width="0" fill="#e9c35e" />
<path d="M508.88 333.42L511.18 335.72L508.88 338.02L506.58 335.72Z" stroke="#e9c35e" stroke-width="0" fill="#e9c35e" />
<path d="M374.8 391.3 L399.94 391.11 L416.7 390.72 L433.46 389.37 L450.22 387.05 L475.36 372 L492.12 352.7 L508.88 334.94" stroke="#fc2914" stroke-width="1.3" fill="none" />
<line x1="433.46" y1="388.6" x2="433.46" y2="390.14" stroke="#fc2914" stroke-width="1.1" />
<line x1="430.86" y1="388.6" x2="436.06" y2="388.6" stroke="#fc2914" stroke-width="1.2" />
<line x1="430.86" y1="390.14" x2="436.06" y2="390.14" stroke="#fc2914" stroke-width="1.2" />
<line x1="475.36" y1="370.46" x2="475.36" y2="373.54" stroke="#fc2914" stroke-width="1.1" />
<line x1="472.76" y1="370.46" x2="477.96" y2="370.46" stroke="#fc2914" stroke-width="1.2" />
<line x1="472.76" y1="373.54" x2="477.96" y2="373.54" stroke="#fc2914" stroke-width="1.2" />
<line x1="492.12" y1="346.14" x2="492.12" y2="359.26" stroke="#fc2914" stroke-width="1.1" />
<line x1="489.52" y1="346.14" x2="494.72" y2="346.14" stroke="#fc2914" stroke-width="1.2" />
<line x1="489.52" y1="359.26" x2="494.72" y2="359.26" stroke="#fc2914" stroke-width="1.2" />
<line x1="508.88" y1="329.15" x2="508.88" y2="340.73" stroke="#fc2914" stroke-width="1.1" />
<line x1="506.28" y1="329.15" x2="511.48" y2="329.15" stroke="#fc2914" stroke-width="1.2" />
<line x1="506.28" y1="340.73" x2="511.48" y2="340.73" stroke="#fc2914" stroke-width="1.2" />
<circle cx="374.8" cy="391.3" r="2.1" fill="#fff" stroke="#fc2914" stroke-width="1.2"/>
<circle cx="399.94" cy="391.11" r="2.1" fill="#fff" stroke="#fc2914" stroke-width="1.2"/>
<circle cx="416.7" cy="390.72" r="2.1" fill="#fff" stroke="#fc2914" stroke-width="1.2"/>
<circle cx="433.46" cy="389.37" r="2.1" fill="#fff" stroke="#fc2914" stroke-width="1.2"/>
<circle cx="450.22" cy="387.05" r="2.1" fill="#fff" stroke="#fc2914" stroke-width="1.2"/>
<circle cx="475.36" cy="372" r="2.1" fill="#fff" stroke="#fc2914" stroke-width="1.2"/>
<circle cx="492.12" cy="352.7" r="2.1" fill="#fff" stroke="#fc2914" stroke-width="1.2"/>
<circle cx="508.88" cy="334.94" r="2.1" fill="#fff" stroke="#fc2914" stroke-width="1.2"/>
<path d="M374.8 391.3 L399.94 391.11 L416.7 390.84 L433.46 390.34 L450.22 387.44 L475.36 376.25 L492.12 363.51 L508.88 355.02" stroke="#05589c" stroke-width="1.3" fill="none" />
<line x1="475.36" y1="375.09" x2="475.36" y2="377.4" stroke="#05589c" stroke-width="1.1" />
<line x1="472.76" y1="375.09" x2="477.96" y2="375.09" stroke="#05589c" stroke-width="1.2" />
<line x1="472.76" y1="377.4" x2="477.96" y2="377.4" stroke="#05589c" stroke-width="1.2" />
<line x1="492.12" y1="361.19" x2="492.12" y2="365.82" stroke="#05589c" stroke-width="1.1" />
<line x1="489.52" y1="361.19" x2="494.72" y2="361.19" stroke="#05589c" stroke-width="1.2" />
<line x1="489.52" y1="365.82" x2="494.72" y2="365.82" stroke="#05589c" stroke-width="1.2" />
<line x1="508.88" y1="350.77" x2="508.88" y2="359.26" stroke="#05589c" stroke-width="1.1" />
<line x1="506.28" y1="350.77" x2="511.48" y2="350.77" stroke="#05589c" stroke-width="1.2" />
<line x1="506.28" y1="359.26" x2="511.48" y2="359.26" stroke="#05589c" stroke-width="1.2" />
<circle cx="374.8" cy="391.3" r="2.6" fill="#05589c" stroke="none" stroke-width="1"/>
<circle cx="399.94" cy="391.11" r="2.6" fill="#05589c" stroke="none" stroke-width="1"/>
<circle cx="416.7" cy="390.84" r="2.6" fill="#05589c" stroke="none" stroke-width="1"/>
<circle cx="433.46" cy="390.34" r="2.6" fill="#05589c" stroke="none" stroke-width="1"/>
<circle cx="450.22" cy="387.44" r="2.6" fill="#05589c" stroke="none" stroke-width="1"/>
<circle cx="475.36" cy="376.25" r="2.6" fill="#05589c" stroke="none" stroke-width="1"/>
<circle cx="492.12" cy="363.51" r="2.6" fill="#05589c" stroke="none" stroke-width="1"/>
<circle cx="508.88" cy="355.02" r="2.6" fill="#05589c" stroke="none" stroke-width="1"/>
<path d="M374.8 391.3 L399.94 391.11 L416.7 390.91 L433.46 390.14 L450.22 387.44 L475.36 372.77 L492.12 352.7 L508.88 326.84" stroke="#000" stroke-width="1.3" fill="none" />
<line x1="475.36" y1="371.23" x2="475.36" y2="374.32" stroke="#000" stroke-width="1.1" />
<line x1="472.76" y1="371.23" x2="477.96" y2="371.23" stroke="#000" stroke-width="1.2" />
<line x1="472.76" y1="374.32" x2="477.96" y2="374.32" stroke="#000" stroke-width="1.2" />
<line x1="492.12" y1="345.75" x2="492.12" y2="359.65" stroke="#000" stroke-width="1.1" />
<line x1="489.52" y1="345.75" x2="494.72" y2="345.75" stroke="#000" stroke-width="1.2" />
<line x1="489.52" y1="359.65" x2="494.72" y2="359.65" stroke="#000" stroke-width="1.2" />
<line x1="508.88" y1="317.96" x2="508.88" y2="335.72" stroke="#000" stroke-width="1.1" />
<line x1="506.28" y1="317.96" x2="511.48" y2="317.96" stroke="#000" stroke-width="1.2" />
<line x1="506.28" y1="335.72" x2="511.48" y2="335.72" stroke="#000" stroke-width="1.2" />
<line x1="372.6" y1="389.1" x2="377" y2="393.5" stroke="#000" stroke-width="1.1" />
<line x1="372.6" y1="393.5" x2="377" y2="389.1" stroke="#000" stroke-width="1.1" />
<line x1="397.74" y1="388.91" x2="402.14" y2="393.31" stroke="#000" stroke-width="1.1" />
<line x1="397.74" y1="393.31" x2="402.14" y2="388.91" stroke="#000" stroke-width="1.1" />
<line x1="414.5" y1="388.71" x2="418.9" y2="393.11" stroke="#000" stroke-width="1.1" />
<line x1="414.5" y1="393.11" x2="418.9" y2="388.71" stroke="#000" stroke-width="1.1" />
<line x1="431.26" y1="387.94" x2="435.66" y2="392.34" stroke="#000" stroke-width="1.1" />
<line x1="431.26" y1="392.34" x2="435.66" y2="387.94" stroke="#000" stroke-width="1.1" />
<line x1="448.02" y1="385.24" x2="452.42" y2="389.64" stroke="#000" stroke-width="1.1" />
<line x1="448.02" y1="389.64" x2="452.42" y2="385.24" stroke="#000" stroke-width="1.1" />
<line x1="473.16" y1="370.57" x2="477.56" y2="374.97" stroke="#000" stroke-width="1.1" />
<line x1="473.16" y1="374.97" x2="477.56" y2="370.57" stroke="#000" stroke-width="1.1" />
<line x1="489.92" y1="350.5" x2="494.32" y2="354.9" stroke="#000" stroke-width="1.1" />
<line x1="489.92" y1="354.9" x2="494.32" y2="350.5" stroke="#000" stroke-width="1.1" />
<line x1="506.68" y1="324.64" x2="511.08" y2="329.04" stroke="#000" stroke-width="1.1" />
<line x1="506.68" y1="329.04" x2="511.08" y2="324.64" stroke="#000" stroke-width="1.1" />
<path d="M514.1 324.8H519.8V355.3H514.1" stroke="#000" stroke-width="1" fill="none" />
<path d="M525.3 336.5L525.3 341.1M523.31 337.65L527.29 339.95M527.29 337.65L523.31 339.95" stroke="#000" stroke-width="1.35" stroke-linecap="round"/>
<line x1="386.4" y1="282.1" x2="396" y2="282.1" stroke="#000" stroke-width="1.1" />
<line x1="388.7" y1="279.6" x2="393.7" y2="284.6" stroke="#000" stroke-width="1.2" />
<line x1="388.7" y1="284.6" x2="393.7" y2="279.6" stroke="#000" stroke-width="1.2" />
<text transform="translate(401,285.33) scale(1,1.12)" stroke="#000">Vehicle</text>
<line x1="386.4" y1="292.2" x2="396" y2="292.2" stroke="#e9c35e" stroke-width="1.1" />
<path d="M391.2 289.8L393.6 292.2L391.2 294.6L388.8 292.2Z" stroke="#e9c35e" stroke-width="0" fill="#e9c35e" />
<text transform="translate(401,295.43) scale(1,1.12)" stroke="#000">Control C57BL/6N CD8</text>
<line x1="386.4" y1="302.6" x2="396" y2="302.6" stroke="#05589c" stroke-width="1.1" />
<circle cx="391.2" cy="302.6" r="2.4" fill="#05589c" stroke="none" stroke-width="1"/>
<text transform="translate(401,305.83) scale(1,1.12)" stroke="#000">Control OT-1 CD8</text>
<line x1="386.4" y1="312.2" x2="396" y2="312.2" stroke="#fc2914" stroke-width="1.1" />
<circle cx="391.2" cy="312.2" r="2" fill="#fff" stroke="#fc2914" stroke-width="1.2"/>
<text transform="translate(401,315.43) scale(1,1.12)" stroke="#000">PGE<tspan font-size="4.96" dy="2">2</tspan><tspan dy="-2">-treated</tspan></text>
<text transform="translate(401,325.13) scale(1,1.12)" stroke="#000">OT-1 CD8</text>
<text transform="translate(556,254.57) scale(1,1.12)" stroke="#000" font-size="9.35">%Antigen-specific CD8<tspan font-size="5.8" dy="-3.37">+</tspan><tspan dy="3.37"> T cells</tspan></text>
<text transform="translate(556,266.17) scale(1,1.12)" stroke="#000" font-size="9.35">(OVA-Tet<tspan font-size="5.8" dy="-3.37">+</tspan><tspan dy="3.37"> CD8</tspan><tspan font-size="5.8" dy="-3.37">+</tspan><tspan dy="3.37"> T cells/CD45</tspan><tspan font-size="5.8" dy="-3.37">+</tspan><tspan dy="3.37">)</tspan></text>
<line x1="582.3" y1="318" x2="582.3" y2="402.8" stroke="#000" stroke-width="1.1" />
<line x1="578.3" y1="402.3" x2="582.3" y2="402.3" stroke="#000" stroke-width="1.1" />
<text transform="translate(576.8,405.53) scale(1,1.12)" text-anchor="end" stroke="#000">0.0</text>
<line x1="578.3" y1="381.23" x2="582.3" y2="381.23" stroke="#000" stroke-width="1.1" />
<text transform="translate(576.8,384.45) scale(1,1.12)" text-anchor="end" stroke="#000">0.5</text>
<line x1="578.3" y1="360.15" x2="582.3" y2="360.15" stroke="#000" stroke-width="1.1" />
<text transform="translate(576.8,363.38) scale(1,1.12)" text-anchor="end" stroke="#000">1.0</text>
<line x1="578.3" y1="339.08" x2="582.3" y2="339.08" stroke="#000" stroke-width="1.1" />
<text transform="translate(576.8,342.3) scale(1,1.12)" text-anchor="end" stroke="#000">1.5</text>
<line x1="578.3" y1="318" x2="582.3" y2="318" stroke="#000" stroke-width="1.1" />
<text transform="translate(576.8,321.23) scale(1,1.12)" text-anchor="end" stroke="#000">2.0</text>
<line x1="581.8" y1="402.3" x2="666.4" y2="402.3" stroke="#000" stroke-width="1.15" />
<line x1="595.2" y1="402.3" x2="595.2" y2="406.6" stroke="#000" stroke-width="1.15" />
<line x1="614.7" y1="402.3" x2="614.7" y2="406.6" stroke="#000" stroke-width="1.15" />
<line x1="634.3" y1="402.3" x2="634.3" y2="406.6" stroke="#000" stroke-width="1.15" />
<line x1="653.5" y1="402.3" x2="653.5" y2="406.6" stroke="#000" stroke-width="1.15" />
<line x1="595.2" y1="381.23" x2="595.2" y2="393.87" stroke="#000" stroke-width="1" />
<line x1="592.95" y1="381.23" x2="597.45" y2="381.23" stroke="#000" stroke-width="1" />
<rect x="589.6" y="393.87" width="11.2" height="8.43" fill="#fff" stroke="#000" stroke-width="1"/>
<line x1="595.2" y1="393.87" x2="595.2" y2="402.3" stroke="#000" stroke-width="1" />
<line x1="614.7" y1="381.65" x2="614.7" y2="391.34" stroke="#000" stroke-width="1" />
<line x1="612.45" y1="381.65" x2="616.95" y2="381.65" stroke="#000" stroke-width="1" />
<rect x="609.1" y="391.34" width="11.2" height="10.96" fill="#e9c35e" stroke="#000" stroke-width="1"/>
<line x1="614.7" y1="391.34" x2="614.7" y2="401.04" stroke="#000" stroke-width="1" />
<line x1="612.5" y1="401.04" x2="616.9" y2="401.04" stroke="#000" stroke-width="1" />
<line x1="634.3" y1="332.75" x2="634.3" y2="356.78" stroke="#000" stroke-width="1" />
<line x1="632.05" y1="332.75" x2="636.55" y2="332.75" stroke="#000" stroke-width="1" />
<rect x="628.7" y="356.78" width="11.2" height="45.52" fill="#05589c" stroke="#000" stroke-width="1"/>
<line x1="634.3" y1="356.78" x2="634.3" y2="380.8" stroke="#000" stroke-width="1" />
<line x1="632.1" y1="380.8" x2="636.5" y2="380.8" stroke="#000" stroke-width="1" />
<line x1="653.5" y1="376.17" x2="653.5" y2="386.28" stroke="#000" stroke-width="1" />
<line x1="651.25" y1="376.17" x2="655.75" y2="376.17" stroke="#000" stroke-width="1" />
<rect x="647.9" y="386.28" width="11.2" height="16.02" fill="#fc2914" stroke="#000" stroke-width="1"/>
<line x1="653.5" y1="386.28" x2="653.5" y2="396.4" stroke="#000" stroke-width="1" />
<line x1="651.3" y1="396.4" x2="655.7" y2="396.4" stroke="#000" stroke-width="1" />
<line x1="593" y1="367.9" x2="597.4" y2="372.3" stroke="#000" stroke-width="1.1" />
<line x1="593" y1="372.3" x2="597.4" y2="367.9" stroke="#000" stroke-width="1.1" />
<line x1="593" y1="387.3" x2="597.4" y2="391.7" stroke="#000" stroke-width="1.1" />
<line x1="593" y1="391.7" x2="597.4" y2="387.3" stroke="#000" stroke-width="1.1" />
<line x1="589.3" y1="396.3" x2="593.7" y2="400.7" stroke="#000" stroke-width="1.1" />
<line x1="589.3" y1="400.7" x2="593.7" y2="396.3" stroke="#000" stroke-width="1.1" />
<line x1="596.6" y1="396.3" x2="601" y2="400.7" stroke="#000" stroke-width="1.1" />
<line x1="596.6" y1="400.7" x2="601" y2="396.3" stroke="#000" stroke-width="1.1" />
<line x1="593" y1="398.3" x2="597.4" y2="402.7" stroke="#000" stroke-width="1.1" />
<line x1="593" y1="402.7" x2="597.4" y2="398.3" stroke="#000" stroke-width="1.1" />
<path d="M614.9 380.1L617.2 382.4L614.9 384.7L612.6 382.4Z" stroke="#000" stroke-width="0" fill="#000" />
<path d="M609.9 385.1L612.2 387.4L609.9 389.7L607.6 387.4Z" stroke="#000" stroke-width="0" fill="#000" />
<path d="M619.2 389.8L621.5 392.1L619.2 394.4L616.9 392.1Z" stroke="#000" stroke-width="0" fill="#000" />
<path d="M614.9 396.3L617.2 398.6L614.9 400.9L612.6 398.6Z" stroke="#000" stroke-width="0" fill="#000" />
<circle cx="638.1" cy="325.1" r="2.1" fill="#000" stroke="none" stroke-width="1"/>
<circle cx="634" cy="329.2" r="2.1" fill="#000" stroke="none" stroke-width="1"/>
<circle cx="634" cy="359.2" r="2.1" fill="#000" stroke="none" stroke-width="1"/>
<circle cx="634" cy="372.9" r="2.1" fill="#000" stroke="none" stroke-width="1"/>
<circle cx="629.8" cy="375.9" r="2.1" fill="#000" stroke="none" stroke-width="1"/>
<circle cx="638.1" cy="375.9" r="2.1" fill="#000" stroke="none" stroke-width="1"/>
<circle cx="653.5" cy="370.5" r="1.9" fill="none" stroke="#000" stroke-width="1.2"/>
<circle cx="648.9" cy="381.9" r="1.9" fill="none" stroke="#000" stroke-width="1.2"/>
<circle cx="658.2" cy="381.9" r="1.9" fill="none" stroke="#000" stroke-width="1.2"/>
<circle cx="653.5" cy="387.4" r="1.9" fill="none" stroke="#000" stroke-width="1.2"/>
<circle cx="653.5" cy="392.8" r="1.9" fill="none" stroke="#000" stroke-width="1.2"/>
<circle cx="653.5" cy="398.3" r="1.9" fill="none" stroke="#000" stroke-width="1.2"/>
<path d="M595.2 291.6V280.3H653.5V310.9" stroke="#000" stroke-width="1.15" fill="none" />
<path d="M595.2 310.9V297H634.3V310.9" stroke="#000" stroke-width="1.15" fill="none" />
<path d="M595.2 361.4V315.2H614.7V379.1" stroke="#000" stroke-width="1.15" fill="none" />
<path d="M634.3 320.2V315.2H653.5V365.1" stroke="#000" stroke-width="1.15" fill="none" />
<text transform="translate(624.2,276.33) scale(1,1.12)" text-anchor="middle" stroke="#000">ns</text>
<path d="M612 288.8L612 293.4M610.01 289.95L613.99 292.25M613.99 289.95L610.01 292.25" stroke="#000" stroke-width="1.35" stroke-linecap="round"/>
<path d="M617.2 288.8L617.2 293.4M615.21 289.95L619.19 292.25M619.19 289.95L615.21 292.25" stroke="#000" stroke-width="1.35" stroke-linecap="round"/>
<text transform="translate(605.7,311.93) scale(1,1.12)" text-anchor="middle" stroke="#000">ns</text>
<path d="M644.2 306.8L644.2 311.4M642.21 307.95L646.19 310.25M646.19 307.95L642.21 310.25" stroke="#000" stroke-width="1.35" stroke-linecap="round"/>
<text transform="translate(547,358.5) rotate(-90) translate(0,3.23) scale(1,1.12)" text-anchor="middle" stroke="#000">Percentage</text>
<text transform="translate(555.5,358.5) rotate(-90) translate(0,3.23) scale(1,1.12)" text-anchor="middle" stroke="#000">(%/CD45<tspan font-size="4.96" dy="-2.88">+</tspan><tspan dy="2.88"> cells)</tspan></text>
<text transform="translate(594.1,408.9) rotate(-45) translate(0,3.29) scale(1,1.12)" text-anchor="end" stroke="#000" font-size="8.15">Vehicle</text>
<text transform="translate(613.6,408.9) rotate(-45) translate(0,3.29) scale(1,1.12)" text-anchor="end" stroke="#000" font-size="8.15">Control C57BL/6N CD8</text>
<text transform="translate(633.2,408.9) rotate(-45) translate(0,3.29) scale(1,1.12)" text-anchor="end" stroke="#000" font-size="8.15">Control OT-1 CD8</text>
<text transform="translate(652.4,408.9) rotate(-45) translate(0,3.29) scale(1,1.12)" text-anchor="end" stroke="#000" font-size="8.15">PGE<tspan font-size="5.05" dy="2.04">2</tspan><tspan dy="-2.04">-treated OT-1 CD8</tspan></text>
<ellipse cx="182.5" cy="561.2" rx="88.6" ry="81.8" fill="none" stroke="#2a2a2a" stroke-width="1.35"/>
<rect x="84" y="526" width="36" height="16" fill="#fff"/>
<rect x="79" y="546" width="38" height="15" fill="#fff"/>
<rect x="84" y="584" width="24" height="10" fill="#fff"/>
<rect x="231" y="511" width="72" height="31" fill="#fff"/>
<rect x="157" y="627" width="50" height="12" fill="#fff"/>
<text transform="translate(61.1,452.13) scale(1,1.12)" text-anchor="middle" font-weight="bold" fill="#c8192b" stroke="#c8192b">Tumor-infiltrating</text>
<text transform="translate(61.1,461.73) scale(1,1.12)" text-anchor="middle" font-weight="bold" fill="#c8192b" stroke="#c8192b">myeloid cells</text>
<text transform="translate(106,463.8) scale(1,1.12)" font-weight="bold" fill="#c8192b" stroke="#c8192b" font-size="7.7">COX</text>
<text transform="translate(75.3,485.3) scale(1,1.12)" font-weight="bold" fill="#c8192b" stroke="#c8192b" font-size="7.7">COX</text>
<text transform="translate(108.8,487.37) scale(1,1.12)" font-weight="bold" fill="#c8192b" stroke="#c8192b" font-size="9.6">PGE<tspan font-size="5.95" dy="2.4">2</tspan></text>
<line x1="95" y1="458.6" x2="104.01" y2="469.7" stroke="#c8192b" stroke-width="1.9" />
<path d="M108.8 475.6L99.47 470.93L106.15 465.51Z" fill="#c8192b"/>
<line x1="79.7" y1="492.2" x2="100.48" y2="486.36" stroke="#c8192b" stroke-width="1.9" />
<path d="M107.8 484.3L99.82 491.01L97.49 482.73Z" fill="#c8192b"/>
<line x1="133" y1="482.1" x2="151.34" y2="478.47" stroke="#c8192b" stroke-width="1.9" />
<path d="M158.8 477L150.31 483.06L148.65 474.62Z" fill="#c8192b"/>
<rect x="159.8" y="472.2" width="42.2" height="12" fill="#fff" stroke="#c8192b" stroke-width="1.2"/>
<text transform="translate(179.6,481.63) scale(1,1.12)" text-anchor="middle" font-weight="bold" fill="#c8192b" stroke="#c8192b" font-size="8.5">EP2/EP4</text>
<line x1="118.3" y1="535.6" x2="171.26" y2="489.9" stroke="#c8192b" stroke-width="1" />
<path d="M173.8 487.7L171.86 491.88L169.38 489.01Z" fill="#c8192b"/>
<line x1="179.4" y1="486.2" x2="107.4" y2="577.6" stroke="#c8192b" stroke-width="1.3" />
<line x1="101.1" y1="578.3" x2="111.2" y2="578.3" stroke="#c8192b" stroke-width="1.4" />
<text transform="translate(30.6,497.54) scale(1,1.12)" font-weight="bold" stroke="#000" font-size="7.8">Tumor cells</text>
<line x1="71.5" y1="503.5" x2="86.58" y2="518.58" stroke="#000" stroke-width="1.8" />
<path d="M92.8 524.8L81.49 520.56L88.56 513.49Z" fill="#000"/>
<path d="M62.3 517.3Q66.5 519 68.3 522.6" stroke="#000" stroke-width="1.1" fill="none" />
<text transform="translate(56,529.12) scale(1,1.12)" font-weight="bold" stroke="#000" font-size="6.5">Antigens</text>
<line x1="55.8" y1="531.8" x2="80.7" y2="531.8" stroke="#000" stroke-width="1.1" />
<text transform="translate(68.3,539.42) scale(1,1.12)" text-anchor="middle" font-weight="bold" stroke="#000" font-size="6.5">MHC</text>
<line x1="71.4" y1="540.5" x2="71.2" y2="544.2" stroke="#000" stroke-width="1.2" />
<text transform="translate(68.5,552.96) scale(1,1.12)" text-anchor="middle" font-weight="bold" stroke="#000" font-size="6.6">CD80/86</text>
<text transform="translate(48.2,566.25) scale(1,1.12)" font-weight="bold" stroke="#000" font-style="italic" font-size="9.3">DC</text>
<line x1="68.8" y1="555.8" x2="63.5" y2="568" stroke="#000" stroke-width="1.4" />
<text transform="translate(100.4,532.82) scale(1,1.12)" text-anchor="middle" font-weight="bold" stroke="#000" font-size="6.5">TCR</text>
<text transform="translate(101.9,539.96) scale(1,1.12)" text-anchor="middle" font-weight="bold" stroke="#000" font-size="6.6">activation</text>
<line x1="96.2" y1="542.8" x2="95.8" y2="545" stroke="#000" stroke-width="1" />
<text transform="translate(97.5,552.96) scale(1,1.12)" text-anchor="middle" font-weight="bold" stroke="#000" font-size="6.6">CD28</text>
<text transform="translate(98.4,559.56) scale(1,1.12)" text-anchor="middle" font-weight="bold" stroke="#000" font-size="6.6">stimulation</text>
<text transform="translate(149.8,545.72) scale(1,1.12)" text-anchor="middle" font-weight="bold" stroke="#000" font-size="6">Other</text>
<text transform="translate(149.8,553.02) scale(1,1.12)" text-anchor="middle" font-weight="bold" stroke="#000" font-size="6">responses</text>
<path d="M110 548.2H117.5Q122 551 136 545.5" stroke="#000" stroke-width="1" fill="none" />
<line x1="113.7" y1="544.1" x2="129.54" y2="560.2" stroke="#000" stroke-width="0.9" />
<path d="M131.5 562.2L127.83 560.9L130.26 558.51Z" fill="#000"/>
<text transform="translate(125.6,571.36) scale(1,1.12)" font-weight="bold" stroke="#000" font-size="6.1">IL-2</text>
<text transform="translate(125.6,579.16) scale(1,1.12)" font-weight="bold" stroke="#000" font-size="6.1">IL-2R&#945;</text>
<line x1="123.1" y1="572.9" x2="70" y2="583.7" stroke="#000" stroke-width="0.9" stroke-dasharray="3,2"/>
<path d="M67.6 584.2L70.42 581.99L71.05 585.13Z" fill="#000"/>
<line x1="123.7" y1="577.1" x2="109" y2="582.4" stroke="#000" stroke-width="0.9" stroke-dasharray="3,2"/>
<path d="M106.7 583.2L109.17 580.61L110.25 583.63Z" fill="#000"/>
<text transform="translate(53.9,592.39) scale(1,1.12)" font-weight="bold" stroke="#000" font-size="7.9">IL-2</text>
<line x1="71.7" y1="589.1" x2="81.2" y2="589.1" stroke="#000" stroke-width="0.9" />
<path d="M83.6 589.1L80.6 590.7L80.6 587.5Z" fill="#000"/>
<text transform="translate(86.7,592.43) scale(1,1.12)" font-weight="bold" stroke="#000">IL-2R</text>
<line x1="110.2" y1="589.1" x2="116.6" y2="589.1" stroke="#000" stroke-width="0.9" />
<path d="M119 589.1L116 590.7L116 587.5Z" fill="#000"/>
<text transform="translate(119.8,592.37) scale(1,1.12)" font-weight="bold" stroke="#000" font-size="8.1">pSTAT5</text>
<line x1="153.8" y1="582.1" x2="153.8" y2="592.8" stroke="#c8192b" stroke-width="1.3" />
<path d="M153.8 596L151.6 592L156 592Z" fill="#c8192b"/>
<line x1="157.4" y1="584.7" x2="174.1" y2="567.4" stroke="#000" stroke-width="0.9" />
<path d="M157.4 587.5L163.5 591.5L167.6 593.6" stroke="#000" stroke-width="0.9" fill="none" />
<text transform="translate(163.3,565.78) scale(1,1.12)" font-weight="bold" stroke="#000" font-size="6.9">c-Myc</text>
<line x1="186" y1="557.3" x2="186" y2="568" stroke="#c8192b" stroke-width="1.3" />
<path d="M186 571.2L183.8 567.2L188.2 567.2Z" fill="#c8192b"/>
<line x1="186" y1="564.3" x2="195.5" y2="564.3" stroke="#000" stroke-width="0.9" />
<path d="M197.9 564.3L194.9 565.8L194.9 562.8Z" fill="#000"/>
<line x1="186.8" y1="560.9" x2="191.91" y2="556.3" stroke="#000" stroke-width="0.9" />
<path d="M193.7 554.7L192.47 557.82L190.47 555.59Z" fill="#000"/>
<text transform="translate(184.3,534.86) scale(1,1.12)" font-weight="bold" stroke="#000" font-size="6.6">RPs</text>
<line x1="200.5" y1="524.5" x2="200.5" y2="535" stroke="#c8192b" stroke-width="1.3" />
<path d="M200.5 538.2L198.3 534.2L202.7 534.2Z" fill="#c8192b"/>
<text transform="translate(184.3,543.94) scale(1,1.12)" font-weight="bold" stroke="#000" font-size="6.8">(Protein</text>
<text transform="translate(184.3,552.3) scale(1,1.12)" font-weight="bold" stroke="#000" font-size="6.7">Synthesis)</text>
<text transform="translate(198.8,566.96) scale(1,1.12)" font-weight="bold" stroke="#000" font-size="6.6">Glycolysis</text>
<line x1="234.6" y1="556.9" x2="234.6" y2="567.4" stroke="#c8192b" stroke-width="1.3" />
<path d="M234.6 570.6L232.4 566.6L236.8 566.6Z" fill="#c8192b"/>
<text transform="translate(168.2,599.54) scale(1,1.12)" font-weight="bold" stroke="#000" font-size="6.8">PGC1&#945;</text>
<line x1="194.5" y1="591.9" x2="194.5" y2="602.4" stroke="#c8192b" stroke-width="1.3" />
<path d="M194.5 605.6L192.3 601.6L196.7 601.6Z" fill="#c8192b"/>
<line x1="197.1" y1="596.7" x2="200" y2="596.7" stroke="#000" stroke-width="0.9" />
<path d="M202 596.7L199.5 598.1L199.5 595.3Z" fill="#000"/>
<text transform="translate(203,599.44) scale(1,1.12)" font-weight="bold" stroke="#000" font-size="6.8">OXPHOS</text>
<line x1="238.4" y1="586.8" x2="238.4" y2="597.2" stroke="#c8192b" stroke-width="1.3" />
<path d="M238.4 600.4L236.2 596.4L240.6 596.4Z" fill="#c8192b"/>
<text transform="translate(203,607.24) scale(1,1.12)" font-weight="bold" stroke="#000" font-size="6.3">(Mitochondrial</text>
<text transform="translate(203,615.64) scale(1,1.12)" font-weight="bold" stroke="#000" font-size="6.8">Respiration)</text>
<path d="M206.5 522L211.6 520.2L255.1 587.6L251.7 589.4" stroke="#000" stroke-width="1" fill="none" />
<path d="M232.8 553L243 546.5" stroke="#000" stroke-width="5.2"/>
<path d="M233.8 552.3L242.6 546.7" stroke="#c8192b" stroke-width="2.8"/>
<path d="M248.2 543.2L244.74 549.89L240.68 543.47Z" fill="#000"/>
<text transform="translate(233,520.11) scale(1,1.12)" font-weight="bold" stroke="#000" font-size="8.2">Tumor cell killing</text>
<line x1="303.5" y1="512.8" x2="303.5" y2="520.2" stroke="#c8192b" stroke-width="1.3" />
<path d="M303.5 523.4L301.3 519.4L305.7 519.4Z" fill="#c8192b"/>
<text transform="translate(235.2,530.23) scale(1,1.12)" font-weight="bold" stroke="#000">Migration</text>
<line x1="275.4" y1="522.2" x2="275.4" y2="529.2" stroke="#c8192b" stroke-width="1.3" />
<path d="M275.4 532.4L273.2 528.4L277.6 528.4Z" fill="#c8192b"/>
<text transform="translate(235.5,539.73) scale(1,1.12)" font-weight="bold" stroke="#000">Expansion</text>
<line x1="279.3" y1="531.8" x2="279.3" y2="539.1" stroke="#c8192b" stroke-width="1.3" />
<path d="M279.3 542.3L277.1 538.3L281.5 538.3Z" fill="#c8192b"/>
<text transform="translate(159.5,637.85) scale(1,1.12)" font-weight="bold" stroke="#000" font-style="italic" font-size="8.3">CD8<tspan font-size="5.15" dy="-2.99">+</tspan><tspan dy="2.99"> T cell</tspan></text>
</g></svg></body></html>
